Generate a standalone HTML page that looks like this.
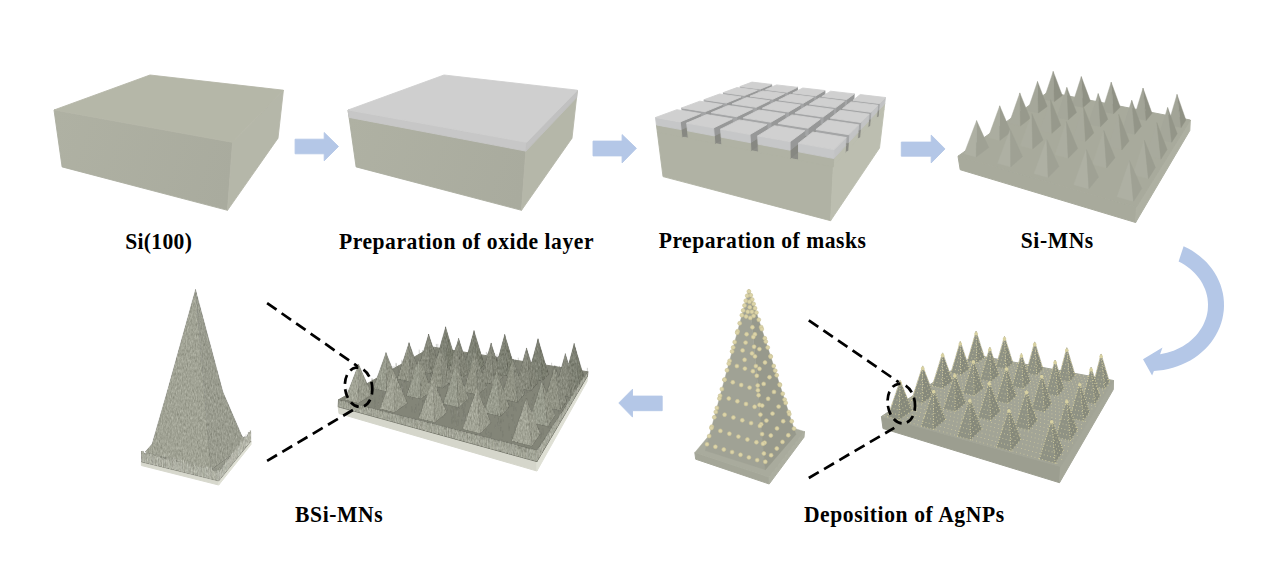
<!DOCTYPE html>
<html><head><meta charset="utf-8"><style>html,body{margin:0;padding:0;background:#fff;width:1269px;height:577px;overflow:hidden}svg{display:block}</style></head>
<body><svg width="1269" height="577" viewBox="0 0 1269 577">
<defs><filter id="fur" x="-5%" y="-5%" width="110%" height="110%" color-interpolation-filters="sRGB">
<feTurbulence type="fractalNoise" baseFrequency="0.8 0.3" numOctaves="2" seed="4" result="n"/>
<feColorMatrix in="n" type="matrix" values="0.33 0.33 0.33 0 0  0.33 0.33 0.33 0 0  0.33 0.33 0.33 0 0  0 0 0 0 1" result="g"/>
<feComposite in="SourceGraphic" in2="g" operator="arithmetic" k1="0" k2="1" k3="0.4" k4="-0.2" result="c"/>
<feComposite in="c" in2="SourceAlpha" operator="in"/>
</filter></defs>
<rect width="1269" height="577" fill="#fff"/>
<linearGradient id="gf0" gradientUnits="userSpaceOnUse" x1="54" y1="120" x2="232" y2="180"><stop offset="0" stop-color="#afb1a3"/><stop offset="1" stop-color="#a9ab9e"/></linearGradient>
<polygon points="54.0,110.0 232.6,142.3 227.5,210.3 62.1,166.9" fill="url(#gf0)"  stroke="#acaea0" stroke-width="0.9"/>
<polygon points="232.6,142.3 283.4,90.2 278.0,138.2 227.5,210.3" fill="#b5b7a9" stroke="#b5b7a9" stroke-width="0.9" stroke-linejoin="round" />
<polygon points="54.0,110.0 150.0,75.0 283.4,90.2 232.6,142.3" fill="#b5b7a8" stroke="#b5b7a8" stroke-width="0.9" stroke-linejoin="round" />
<linearGradient id="gf294" gradientUnits="userSpaceOnUse" x1="348" y1="120" x2="526" y2="180"><stop offset="0" stop-color="#afb1a3"/><stop offset="1" stop-color="#a9ab9e"/></linearGradient>
<polygon points="348.0,110.0 526.6,142.3 521.5,210.3 356.1,166.9" fill="url(#gf294)"  stroke="#acaea0" stroke-width="0.9"/>
<polygon points="526.6,142.3 577.4,90.2 572.0,138.2 521.5,210.3" fill="#b5b7a9" stroke="#b5b7a9" stroke-width="0.9" stroke-linejoin="round" />
<polygon points="348.0,110.0 526.6,142.3 525.9,151.1 349.1,117.4" fill="#c7c7c7" stroke="#c7c7c7" stroke-width="0.9" stroke-linejoin="round" />
<polygon points="526.6,142.3 577.4,90.2 576.6,97.6 525.9,151.1" fill="#c1c1c1" stroke="#c1c1c1" stroke-width="0.9" stroke-linejoin="round" />
<polygon points="348.0,110.0 444.0,75.0 577.4,90.2 526.6,142.3" fill="#cfcfcf" stroke="#cfcfcf" stroke-width="0.9" stroke-linejoin="round" />
<polygon points="657.3,132.0 833.3,167.0 884.0,109.9 753.5,92.8" fill="#8c8d87" stroke="#8c8d87" stroke-width="0.9" stroke-linejoin="round" />
<polygon points="657.3,132.0 833.3,167.0 830.6,220.7 663.0,176.6" fill="#b0b2a4" stroke="#b0b2a4" stroke-width="0.9" stroke-linejoin="round" />
<polygon points="833.3,167.0 884.0,109.9 879.5,148.0 830.6,220.7" fill="#bcbeb0" stroke="#bcbeb0" stroke-width="0.9" stroke-linejoin="round" />
<polygon points="761.0,94.8 772.2,89.9 772.8,95.3 761.7,100.4" fill="#878882" stroke="#878882" stroke-width="0.9" stroke-linejoin="round" />
<polygon points="760.4,89.0 771.6,84.4 772.2,89.9 761.0,94.8" fill="#979898" stroke="#979898" stroke-width="0.9" stroke-linejoin="round" />
<polygon points="740.9,92.2 761.0,94.8 761.7,100.4 741.7,97.6" fill="#8a8b85" stroke="#8a8b85" stroke-width="0.9" stroke-linejoin="round" />
<polygon points="740.1,86.5 760.4,89.0 761.0,94.8 740.9,92.2" fill="#a4a5a6" stroke="#a4a5a6" stroke-width="0.9" stroke-linejoin="round" />
<polygon points="740.1,86.5 760.4,89.0 771.6,84.4 752.0,82.1" fill="#d0d0d0" stroke="#d0d0d0" stroke-width="0.9" stroke-linejoin="round" />
<polygon points="787.7,98.3 797.8,93.1 798.1,98.6 788.1,104.0" fill="#878882" stroke="#878882" stroke-width="0.9" stroke-linejoin="round" />
<polygon points="787.2,92.3 797.4,87.3 797.8,93.1 787.7,98.3" fill="#979898" stroke="#979898" stroke-width="0.9" stroke-linejoin="round" />
<polygon points="766.2,95.5 787.7,98.3 788.1,104.0 766.8,101.1" fill="#8a8b85" stroke="#8a8b85" stroke-width="0.9" stroke-linejoin="round" />
<polygon points="765.6,89.6 787.2,92.3 787.7,98.3 766.2,95.5" fill="#a4a5a6" stroke="#a4a5a6" stroke-width="0.9" stroke-linejoin="round" />
<polygon points="765.6,89.6 787.2,92.3 797.4,87.3 776.6,84.9" fill="#d0d0d0" stroke="#d0d0d0" stroke-width="0.9" stroke-linejoin="round" />
<polygon points="816.0,102.0 825.0,96.5 825.0,102.2 816.2,107.9" fill="#878882" stroke="#878882" stroke-width="0.9" stroke-linejoin="round" />
<polygon points="815.9,95.8 824.9,90.5 825.0,96.5 816.0,102.0" fill="#979898" stroke="#979898" stroke-width="0.9" stroke-linejoin="round" />
<polygon points="793.2,99.0 816.0,102.0 816.2,107.9 793.6,104.8" fill="#8a8b85" stroke="#8a8b85" stroke-width="0.9" stroke-linejoin="round" />
<polygon points="792.8,93.0 815.9,95.8 816.0,102.0 793.2,99.0" fill="#a4a5a6" stroke="#a4a5a6" stroke-width="0.9" stroke-linejoin="round" />
<polygon points="792.8,93.0 815.9,95.8 824.9,90.5 802.8,88.0" fill="#d0d0d0" stroke="#d0d0d0" stroke-width="0.9" stroke-linejoin="round" />
<polygon points="846.3,105.9 853.9,100.0 853.6,105.9 846.1,112.1" fill="#878882" stroke="#878882" stroke-width="0.9" stroke-linejoin="round" />
<polygon points="846.6,99.5 854.2,93.9 853.9,100.0 846.3,105.9" fill="#979898" stroke="#979898" stroke-width="0.9" stroke-linejoin="round" />
<polygon points="821.9,102.8 846.3,105.9 846.1,112.1 822.0,108.7" fill="#8a8b85" stroke="#8a8b85" stroke-width="0.9" stroke-linejoin="round" />
<polygon points="821.9,96.5 846.6,99.5 846.3,105.9 821.9,102.8" fill="#a4a5a6" stroke="#a4a5a6" stroke-width="0.9" stroke-linejoin="round" />
<polygon points="821.9,96.5 846.6,99.5 854.2,93.9 830.6,91.2" fill="#d0d0d0" stroke="#d0d0d0" stroke-width="0.9" stroke-linejoin="round" />
<polygon points="878.7,110.2 884.7,103.8 884.0,109.9 878.1,116.5" fill="#bcbeb0" stroke="#bcbeb0" stroke-width="0.9" stroke-linejoin="round" />
<polygon points="879.4,103.6 885.4,97.5 884.7,103.8 878.7,110.2" fill="#c2c3c4" stroke="#c2c3c4" stroke-width="0.9" stroke-linejoin="round" />
<polygon points="852.6,106.8 878.7,110.2 878.1,116.5 852.3,112.9" fill="#8a8b85" stroke="#8a8b85" stroke-width="0.9" stroke-linejoin="round" />
<polygon points="853.0,100.3 879.4,103.6 878.7,110.2 852.6,106.8" fill="#a4a5a6" stroke="#a4a5a6" stroke-width="0.9" stroke-linejoin="round" />
<polygon points="853.0,100.3 879.4,103.6 885.4,97.5 860.2,94.6" fill="#d0d0d0" stroke="#d0d0d0" stroke-width="0.9" stroke-linejoin="round" />
<polygon points="745.3,101.6 758.1,96.1 758.7,101.7 746.0,107.5" fill="#878882" stroke="#878882" stroke-width="0.9" stroke-linejoin="round" />
<polygon points="744.6,95.5 757.4,90.2 758.1,96.1 745.3,101.6" fill="#979898" stroke="#979898" stroke-width="0.9" stroke-linejoin="round" />
<polygon points="724.2,98.6 745.3,101.6 746.0,107.5 725.0,104.4" fill="#8a8b85" stroke="#8a8b85" stroke-width="0.9" stroke-linejoin="round" />
<polygon points="723.3,92.6 744.6,95.5 745.3,101.6 724.2,98.6" fill="#a4a5a6" stroke="#a4a5a6" stroke-width="0.9" stroke-linejoin="round" />
<polygon points="723.3,92.6 744.6,95.5 757.4,90.2 736.9,87.6" fill="#d0d0d0" stroke="#d0d0d0" stroke-width="0.9" stroke-linejoin="round" />
<polygon points="773.4,105.6 785.0,99.7 785.4,105.5 773.8,111.7" fill="#878882" stroke="#878882" stroke-width="0.9" stroke-linejoin="round" />
<polygon points="772.9,99.2 784.5,93.6 785.0,99.7 773.4,105.6" fill="#979898" stroke="#979898" stroke-width="0.9" stroke-linejoin="round" />
<polygon points="750.8,102.4 773.4,105.6 773.8,111.7 751.4,108.4" fill="#8a8b85" stroke="#8a8b85" stroke-width="0.9" stroke-linejoin="round" />
<polygon points="750.1,96.2 772.9,99.2 773.4,105.6 750.8,102.4" fill="#a4a5a6" stroke="#a4a5a6" stroke-width="0.9" stroke-linejoin="round" />
<polygon points="750.1,96.2 772.9,99.2 784.5,93.6 762.7,90.9" fill="#d0d0d0" stroke="#d0d0d0" stroke-width="0.9" stroke-linejoin="round" />
<polygon points="803.4,109.8 813.7,103.5 813.8,109.5 803.6,116.2" fill="#878882" stroke="#878882" stroke-width="0.9" stroke-linejoin="round" />
<polygon points="803.2,103.3 813.5,97.2 813.7,103.5 803.4,109.8" fill="#979898" stroke="#979898" stroke-width="0.9" stroke-linejoin="round" />
<polygon points="779.2,106.4 803.4,109.8 803.6,116.2 779.6,112.6" fill="#8a8b85" stroke="#8a8b85" stroke-width="0.9" stroke-linejoin="round" />
<polygon points="778.8,100.0 803.2,103.3 803.4,109.8 779.2,106.4" fill="#a4a5a6" stroke="#a4a5a6" stroke-width="0.9" stroke-linejoin="round" />
<polygon points="778.8,100.0 803.2,103.3 813.5,97.2 790.2,94.3" fill="#d0d0d0" stroke="#d0d0d0" stroke-width="0.9" stroke-linejoin="round" />
<polygon points="835.6,114.4 844.3,107.5 844.1,113.7 835.4,120.9" fill="#878882" stroke="#878882" stroke-width="0.9" stroke-linejoin="round" />
<polygon points="835.8,107.6 844.5,101.1 844.3,107.5 835.6,114.4" fill="#979898" stroke="#979898" stroke-width="0.9" stroke-linejoin="round" />
<polygon points="809.6,110.7 835.6,114.4 835.4,120.9 809.8,117.1" fill="#8a8b85" stroke="#8a8b85" stroke-width="0.9" stroke-linejoin="round" />
<polygon points="809.5,104.1 835.8,107.6 835.6,114.4 809.6,110.7" fill="#a4a5a6" stroke="#a4a5a6" stroke-width="0.9" stroke-linejoin="round" />
<polygon points="809.5,104.1 835.8,107.6 844.5,101.1 819.6,97.9" fill="#d0d0d0" stroke="#d0d0d0" stroke-width="0.9" stroke-linejoin="round" />
<polygon points="870.3,119.3 877.1,111.9 876.5,118.3 869.6,126.0" fill="#bcbeb0" stroke="#bcbeb0" stroke-width="0.9" stroke-linejoin="round" />
<polygon points="870.9,112.3 877.8,105.2 877.1,111.9 870.3,119.3" fill="#c2c3c4" stroke="#c2c3c4" stroke-width="0.9" stroke-linejoin="round" />
<polygon points="842.3,115.3 870.3,119.3 869.6,126.0 842.1,121.9" fill="#8a8b85" stroke="#8a8b85" stroke-width="0.9" stroke-linejoin="round" />
<polygon points="842.6,108.5 870.9,112.3 870.3,119.3 842.3,115.3" fill="#a4a5a6" stroke="#a4a5a6" stroke-width="0.9" stroke-linejoin="round" />
<polygon points="842.6,108.5 870.9,112.3 877.8,105.2 851.0,101.9" fill="#d0d0d0" stroke="#d0d0d0" stroke-width="0.9" stroke-linejoin="round" />
<polygon points="727.2,109.5 741.9,103.1 742.6,109.1 727.9,115.8" fill="#878882" stroke="#878882" stroke-width="0.9" stroke-linejoin="round" />
<polygon points="726.4,103.0 741.1,96.9 741.9,103.1 727.2,109.5" fill="#979898" stroke="#979898" stroke-width="0.9" stroke-linejoin="round" />
<polygon points="704.9,106.1 727.2,109.5 727.9,115.8 705.8,112.2" fill="#8a8b85" stroke="#8a8b85" stroke-width="0.9" stroke-linejoin="round" />
<polygon points="704.0,99.7 726.4,103.0 727.2,109.5 704.9,106.1" fill="#a4a5a6" stroke="#a4a5a6" stroke-width="0.9" stroke-linejoin="round" />
<polygon points="704.0,99.7 726.4,103.0 741.1,96.9 719.6,94.0" fill="#d0d0d0" stroke="#d0d0d0" stroke-width="0.9" stroke-linejoin="round" />
<polygon points="756.8,114.1 770.2,107.2 770.7,113.4 757.3,120.6" fill="#878882" stroke="#878882" stroke-width="0.9" stroke-linejoin="round" />
<polygon points="756.2,107.3 769.7,100.7 770.2,107.2 756.8,114.1" fill="#979898" stroke="#979898" stroke-width="0.9" stroke-linejoin="round" />
<polygon points="732.9,110.4 756.8,114.1 757.3,120.6 733.6,116.7" fill="#8a8b85" stroke="#8a8b85" stroke-width="0.9" stroke-linejoin="round" />
<polygon points="732.2,103.8 756.2,107.3 756.8,114.1 732.9,110.4" fill="#a4a5a6" stroke="#a4a5a6" stroke-width="0.9" stroke-linejoin="round" />
<polygon points="732.2,103.8 756.2,107.3 769.7,100.7 746.7,97.6" fill="#d0d0d0" stroke="#d0d0d0" stroke-width="0.9" stroke-linejoin="round" />
<polygon points="788.6,119.0 800.6,111.6 800.8,118.0 788.9,125.7" fill="#878882" stroke="#878882" stroke-width="0.9" stroke-linejoin="round" />
<polygon points="788.4,112.0 800.4,104.9 800.6,111.6 788.6,119.0" fill="#979898" stroke="#979898" stroke-width="0.9" stroke-linejoin="round" />
<polygon points="763.0,115.0 788.6,119.0 788.9,125.7 763.5,121.6" fill="#8a8b85" stroke="#8a8b85" stroke-width="0.9" stroke-linejoin="round" />
<polygon points="762.4,108.2 788.4,112.0 788.6,119.0 763.0,115.0" fill="#a4a5a6" stroke="#a4a5a6" stroke-width="0.9" stroke-linejoin="round" />
<polygon points="762.4,108.2 788.4,112.0 800.4,104.9 775.7,101.6" fill="#d0d0d0" stroke="#d0d0d0" stroke-width="0.9" stroke-linejoin="round" />
<polygon points="823.0,124.3 833.2,116.2 833.1,122.9 822.9,131.3" fill="#878882" stroke="#878882" stroke-width="0.9" stroke-linejoin="round" />
<polygon points="823.1,117.0 833.4,109.4 833.2,116.2 823.0,124.3" fill="#979898" stroke="#979898" stroke-width="0.9" stroke-linejoin="round" />
<polygon points="795.3,120.0 823.0,124.3 822.9,131.3 795.5,126.8" fill="#8a8b85" stroke="#8a8b85" stroke-width="0.9" stroke-linejoin="round" />
<polygon points="795.1,112.9 823.1,117.0 823.0,124.3 795.3,120.0" fill="#a4a5a6" stroke="#a4a5a6" stroke-width="0.9" stroke-linejoin="round" />
<polygon points="795.1,112.9 823.1,117.0 833.4,109.4 806.8,105.8" fill="#d0d0d0" stroke="#d0d0d0" stroke-width="0.9" stroke-linejoin="round" />
<polygon points="860.3,130.0 868.4,121.3 867.8,128.1 859.7,137.2" fill="#bcbeb0" stroke="#bcbeb0" stroke-width="0.9" stroke-linejoin="round" />
<polygon points="860.8,122.5 869.0,114.2 868.4,121.3 860.3,130.0" fill="#c2c3c4" stroke="#c2c3c4" stroke-width="0.9" stroke-linejoin="round" />
<polygon points="830.2,125.4 860.3,130.0 859.7,137.2 830.1,132.4" fill="#8a8b85" stroke="#8a8b85" stroke-width="0.9" stroke-linejoin="round" />
<polygon points="830.4,118.1 860.8,122.5 860.3,130.0 830.2,125.4" fill="#a4a5a6" stroke="#a4a5a6" stroke-width="0.9" stroke-linejoin="round" />
<polygon points="830.4,118.1 860.8,122.5 869.0,114.2 840.3,110.3" fill="#d0d0d0" stroke="#d0d0d0" stroke-width="0.9" stroke-linejoin="round" />
<polygon points="706.0,118.7 723.2,111.2 724.0,117.6 706.8,125.5" fill="#878882" stroke="#878882" stroke-width="0.9" stroke-linejoin="round" />
<polygon points="705.2,111.7 722.4,104.6 723.2,111.2 706.0,118.7" fill="#979898" stroke="#979898" stroke-width="0.9" stroke-linejoin="round" />
<polygon points="682.6,114.7 706.0,118.7 706.8,125.5 683.5,121.3" fill="#8a8b85" stroke="#8a8b85" stroke-width="0.9" stroke-linejoin="round" />
<polygon points="681.7,107.9 705.2,111.7 706.0,118.7 682.6,114.7" fill="#a4a5a6" stroke="#a4a5a6" stroke-width="0.9" stroke-linejoin="round" />
<polygon points="681.7,107.9 705.2,111.7 722.4,104.6 699.8,101.2" fill="#d0d0d0" stroke="#d0d0d0" stroke-width="0.9" stroke-linejoin="round" />
<polygon points="737.3,124.0 753.1,115.9 753.7,122.6 738.0,131.0" fill="#878882" stroke="#878882" stroke-width="0.9" stroke-linejoin="round" />
<polygon points="736.7,116.7 752.6,109.1 753.1,115.9 737.3,124.0" fill="#979898" stroke="#979898" stroke-width="0.9" stroke-linejoin="round" />
<polygon points="712.1,119.7 737.3,124.0 738.0,131.0 712.9,126.5" fill="#8a8b85" stroke="#8a8b85" stroke-width="0.9" stroke-linejoin="round" />
<polygon points="711.3,112.6 736.7,116.7 737.3,124.0 712.1,119.7" fill="#a4a5a6" stroke="#a4a5a6" stroke-width="0.9" stroke-linejoin="round" />
<polygon points="711.3,112.6 736.7,116.7 752.6,109.1 728.3,105.5" fill="#d0d0d0" stroke="#d0d0d0" stroke-width="0.9" stroke-linejoin="round" />
<polygon points="771.3,129.8 785.4,121.0 785.7,127.9 771.6,137.1" fill="#878882" stroke="#878882" stroke-width="0.9" stroke-linejoin="round" />
<polygon points="770.9,122.2 785.1,113.9 785.4,121.0 771.3,129.8" fill="#979898" stroke="#979898" stroke-width="0.9" stroke-linejoin="round" />
<polygon points="743.9,125.1 771.3,129.8 771.6,137.1 744.5,132.2" fill="#8a8b85" stroke="#8a8b85" stroke-width="0.9" stroke-linejoin="round" />
<polygon points="743.3,117.8 770.9,122.2 771.3,129.8 743.9,125.1" fill="#a4a5a6" stroke="#a4a5a6" stroke-width="0.9" stroke-linejoin="round" />
<polygon points="743.3,117.8 770.9,122.2 785.1,113.9 758.9,110.0" fill="#d0d0d0" stroke="#d0d0d0" stroke-width="0.9" stroke-linejoin="round" />
<polygon points="808.1,136.0 820.3,126.5 820.2,133.6 808.1,143.6" fill="#878882" stroke="#878882" stroke-width="0.9" stroke-linejoin="round" />
<polygon points="808.1,128.2 820.3,119.1 820.3,126.5 808.1,136.0" fill="#979898" stroke="#979898" stroke-width="0.9" stroke-linejoin="round" />
<polygon points="778.4,131.0 808.1,136.0 808.1,143.6 778.7,138.3" fill="#8a8b85" stroke="#8a8b85" stroke-width="0.9" stroke-linejoin="round" />
<polygon points="778.1,123.4 808.1,128.2 808.1,136.0 778.4,131.0" fill="#a4a5a6" stroke="#a4a5a6" stroke-width="0.9" stroke-linejoin="round" />
<polygon points="778.1,123.4 808.1,128.2 820.3,119.1 791.9,114.9" fill="#d0d0d0" stroke="#d0d0d0" stroke-width="0.9" stroke-linejoin="round" />
<polygon points="848.3,142.9 858.0,132.4 857.5,139.7 847.8,150.7" fill="#bcbeb0" stroke="#bcbeb0" stroke-width="0.9" stroke-linejoin="round" />
<polygon points="848.8,134.7 858.6,124.8 858.0,132.4 848.3,142.9" fill="#c2c3c4" stroke="#c2c3c4" stroke-width="0.9" stroke-linejoin="round" />
<polygon points="815.9,137.4 848.3,142.9 847.8,150.7 815.8,145.0" fill="#8a8b85" stroke="#8a8b85" stroke-width="0.9" stroke-linejoin="round" />
<polygon points="816.0,129.5 848.8,134.7 848.3,142.9 815.9,137.4" fill="#a4a5a6" stroke="#a4a5a6" stroke-width="0.9" stroke-linejoin="round" />
<polygon points="816.0,129.5 848.8,134.7 858.6,124.8 827.7,120.2" fill="#d0d0d0" stroke="#d0d0d0" stroke-width="0.9" stroke-linejoin="round" />
<polygon points="681.1,129.6 701.4,120.7 702.2,127.6 681.9,136.9" fill="#878882" stroke="#878882" stroke-width="0.9" stroke-linejoin="round" />
<polygon points="680.2,121.9 700.5,113.6 701.4,120.7 681.1,129.6" fill="#979898" stroke="#979898" stroke-width="0.9" stroke-linejoin="round" />
<polygon points="656.4,124.9 681.1,129.6 681.9,136.9 657.3,132.0" fill="#b0b2a4" stroke="#b0b2a4" stroke-width="0.9" stroke-linejoin="round" />
<polygon points="655.5,117.5 680.2,121.9 681.1,129.6 656.4,124.9" fill="#c6c7c8" stroke="#c6c7c8" stroke-width="0.9" stroke-linejoin="round" />
<polygon points="655.5,117.5 680.2,121.9 700.5,113.6 676.8,109.7" fill="#d0d0d0" stroke="#d0d0d0" stroke-width="0.9" stroke-linejoin="round" />
<polygon points="714.3,135.9 733.1,126.2 733.7,133.3 714.9,143.5" fill="#878882" stroke="#878882" stroke-width="0.9" stroke-linejoin="round" />
<polygon points="713.6,127.9 732.4,118.8 733.1,126.2 714.3,135.9" fill="#979898" stroke="#979898" stroke-width="0.9" stroke-linejoin="round" />
<polygon points="687.5,130.8 714.3,135.9 714.9,143.5 688.3,138.2" fill="#b0b2a4" stroke="#b0b2a4" stroke-width="0.9" stroke-linejoin="round" />
<polygon points="686.7,123.1 713.6,127.9 714.3,135.9 687.5,130.8" fill="#c6c7c8" stroke="#c6c7c8" stroke-width="0.9" stroke-linejoin="round" />
<polygon points="686.7,123.1 713.6,127.9 732.4,118.8 706.7,114.6" fill="#d0d0d0" stroke="#d0d0d0" stroke-width="0.9" stroke-linejoin="round" />
<polygon points="750.5,142.7 767.4,132.2 767.8,139.6 750.9,150.6" fill="#878882" stroke="#878882" stroke-width="0.9" stroke-linejoin="round" />
<polygon points="750.0,134.5 767.0,124.5 767.4,132.2 750.5,142.7" fill="#979898" stroke="#979898" stroke-width="0.9" stroke-linejoin="round" />
<polygon points="721.2,137.2 750.5,142.7 750.9,150.6 721.9,144.9" fill="#b0b2a4" stroke="#b0b2a4" stroke-width="0.9" stroke-linejoin="round" />
<polygon points="720.6,129.2 750.0,134.5 750.5,142.7 721.2,137.2" fill="#c6c7c8" stroke="#c6c7c8" stroke-width="0.9" stroke-linejoin="round" />
<polygon points="720.6,129.2 750.0,134.5 767.0,124.5 739.1,119.9" fill="#d0d0d0" stroke="#d0d0d0" stroke-width="0.9" stroke-linejoin="round" />
<polygon points="790.1,150.2 804.8,138.7 804.8,146.3 790.2,158.4" fill="#878882" stroke="#878882" stroke-width="0.9" stroke-linejoin="round" />
<polygon points="790.1,141.7 804.8,130.7 804.8,138.7 790.1,150.2" fill="#979898" stroke="#979898" stroke-width="0.9" stroke-linejoin="round" />
<polygon points="758.1,144.2 790.1,150.2 790.2,158.4 758.4,152.1" fill="#b0b2a4" stroke="#b0b2a4" stroke-width="0.9" stroke-linejoin="round" />
<polygon points="757.7,135.9 790.1,141.7 790.1,150.2 758.1,144.2" fill="#c6c7c8" stroke="#c6c7c8" stroke-width="0.9" stroke-linejoin="round" />
<polygon points="757.7,135.9 790.1,141.7 804.8,130.7 774.3,125.7" fill="#d0d0d0" stroke="#d0d0d0" stroke-width="0.9" stroke-linejoin="round" />
<polygon points="833.8,158.5 845.6,145.7 845.1,153.7 833.3,167.0" fill="#bcbeb0" stroke="#bcbeb0" stroke-width="0.9" stroke-linejoin="round" />
<polygon points="834.2,149.6 846.1,137.5 845.6,145.7 833.8,158.5" fill="#c2c3c4" stroke="#c2c3c4" stroke-width="0.9" stroke-linejoin="round" />
<polygon points="798.5,151.8 833.8,158.5 833.3,167.0 798.5,160.1" fill="#b0b2a4" stroke="#b0b2a4" stroke-width="0.9" stroke-linejoin="round" />
<polygon points="798.5,143.2 834.2,149.6 833.8,158.5 798.5,151.8" fill="#c6c7c8" stroke="#c6c7c8" stroke-width="0.9" stroke-linejoin="round" />
<polygon points="798.5,143.2 834.2,149.6 846.1,137.5 812.8,132.0" fill="#d0d0d0" stroke="#d0d0d0" stroke-width="0.9" stroke-linejoin="round" />
<polygon points="295.1,139.2 324.2,139.2 324.2,132.5 338.5,146.5 324.2,160.8 324.2,153.8 295.1,153.8" fill="#b4c7e7" stroke="#b4c7e7" stroke-width="0.9" stroke-linejoin="round" />
<polygon points="593.0,141.1 622.1,141.1 622.1,134.6 636.4,148.3 622.1,162.9 622.1,155.9 593.0,155.9" fill="#b4c7e7" stroke="#b4c7e7" stroke-width="0.9" stroke-linejoin="round" />
<polygon points="901.3,142.1 931.2,142.1 931.2,135.1 945.0,148.9 931.2,162.9 931.2,156.2 901.3,156.2" fill="#b4c7e7" stroke="#b4c7e7" stroke-width="0.9" stroke-linejoin="round" />
<polygon points="662.2,396.1 632.5,396.1 632.5,389.2 618.8,403.0 632.5,417.1 632.5,410.7 662.2,410.7" fill="#b4c7e7" stroke="#b4c7e7" stroke-width="0.9" stroke-linejoin="round" />
<polygon points="958.0,156.2 1136.4,206.9 1135.6,222.5 960.2,169.7" fill="#a8aa9c" stroke="#a8aa9c"  stroke-linejoin="round" stroke-width="1"/>
<polygon points="1136.4,206.9 1190.3,120.0 1189.8,130.5 1135.6,222.5" fill="#aeb0a2" stroke="#aeb0a2"  stroke-linejoin="round" stroke-width="1"/>
<polygon points="958.0,156.2 1136.4,206.9 1190.3,120.0 1048.0,92.0" fill="#a8aa9c" stroke="#a8aa9c"  stroke-linejoin="round" stroke-width="1"/>
<polygon points="1043.9,99.4 1054.4,101.5 1053.2,71.4" fill="#a2a497" stroke="#a2a497" stroke-width="0.4" stroke-linejoin="round" />
<polygon points="1054.4,101.5 1062.3,95.5 1053.2,71.4" fill="#8f9184" stroke="#8f9184" stroke-width="0.4" stroke-linejoin="round" />
<polygon points="1072.1,105.2 1083.1,107.5 1081.3,76.6" fill="#a2a497" stroke="#a2a497" stroke-width="0.4" stroke-linejoin="round" />
<polygon points="1083.1,107.5 1090.4,101.1 1081.3,76.6" fill="#8f9184" stroke="#8f9184" stroke-width="0.4" stroke-linejoin="round" />
<polygon points="1027.6,110.7 1038.4,113.0 1037.5,81.5" fill="#a5a79a" stroke="#a5a79a" stroke-width="0.4" stroke-linejoin="round" />
<polygon points="1038.4,113.0 1047.2,106.4 1037.5,81.5" fill="#939588" stroke="#939588" stroke-width="0.4" stroke-linejoin="round" />
<polygon points="1102.0,111.4 1113.6,113.8 1111.2,82.2" fill="#a2a497" stroke="#a2a497" stroke-width="0.4" stroke-linejoin="round" />
<polygon points="1113.6,113.8 1120.2,107.0 1111.2,82.2" fill="#8f9184" stroke="#8f9184" stroke-width="0.4" stroke-linejoin="round" />
<polygon points="1057.0,117.2 1068.4,119.7 1066.8,87.4" fill="#a5a79a" stroke="#a5a79a" stroke-width="0.4" stroke-linejoin="round" />
<polygon points="1068.4,119.7 1076.5,112.6 1066.8,87.4" fill="#939588" stroke="#939588" stroke-width="0.4" stroke-linejoin="round" />
<polygon points="1133.9,117.9 1146.2,120.5 1143.0,88.1" fill="#a2a497" stroke="#a2a497" stroke-width="0.4" stroke-linejoin="round" />
<polygon points="1146.2,120.5 1152.0,113.3 1143.0,88.1" fill="#8f9184" stroke="#8f9184" stroke-width="0.4" stroke-linejoin="round" />
<polygon points="1009.2,123.3 1020.4,126.0 1019.8,92.9" fill="#a8aa9d" stroke="#a8aa9d" stroke-width="0.4" stroke-linejoin="round" />
<polygon points="1020.4,126.0 1030.2,118.5 1019.8,92.9" fill="#97998c" stroke="#97998c" stroke-width="0.4" stroke-linejoin="round" />
<polygon points="1088.3,124.1 1100.5,126.8 1098.2,93.6" fill="#a5a79a" stroke="#a5a79a" stroke-width="0.4" stroke-linejoin="round" />
<polygon points="1100.5,126.8 1107.8,119.2 1098.2,93.6" fill="#939588" stroke="#939588" stroke-width="0.4" stroke-linejoin="round" />
<polygon points="1168.0,124.9 1181.1,127.6 1177.0,94.4" fill="#a2a497" stroke="#a2a497" stroke-width="0.4" stroke-linejoin="round" />
<polygon points="1181.1,127.6 1185.9,120.0 1177.0,94.4" fill="#8f9184" stroke="#8f9184" stroke-width="0.4" stroke-linejoin="round" />
<polygon points="1039.8,130.6 1051.8,133.4 1050.5,99.5" fill="#a8aa9d" stroke="#a8aa9d" stroke-width="0.4" stroke-linejoin="round" />
<polygon points="1051.8,133.4 1060.9,125.5 1050.5,99.5" fill="#97998c" stroke="#97998c" stroke-width="0.4" stroke-linejoin="round" />
<polygon points="1121.9,131.5 1134.8,134.3 1131.7,100.3" fill="#a5a79a" stroke="#a5a79a" stroke-width="0.4" stroke-linejoin="round" />
<polygon points="1134.8,134.3 1141.3,126.3 1131.7,100.3" fill="#939588" stroke="#939588" stroke-width="0.4" stroke-linejoin="round" />
<polygon points="988.2,137.5 999.8,140.5 999.7,105.8" fill="#abada0" stroke="#abada0" stroke-width="0.4" stroke-linejoin="round" />
<polygon points="999.8,140.5 1010.9,132.1 999.7,105.8" fill="#9b9d90" stroke="#9b9d90" stroke-width="0.4" stroke-linejoin="round" />
<polygon points="1072.8,138.4 1085.5,141.4 1083.4,106.7" fill="#a8aa9d" stroke="#a8aa9d" stroke-width="0.4" stroke-linejoin="round" />
<polygon points="1085.5,141.4 1093.8,133.0 1083.4,106.7" fill="#97998c" stroke="#97998c" stroke-width="0.4" stroke-linejoin="round" />
<polygon points="1157.9,139.3 1171.7,142.3 1167.6,107.5" fill="#a5a79a" stroke="#a5a79a" stroke-width="0.4" stroke-linejoin="round" />
<polygon points="1171.7,142.3 1177.2,133.8 1167.6,107.5" fill="#939588" stroke="#939588" stroke-width="0.4" stroke-linejoin="round" />
<polygon points="1020.3,145.8 1032.7,149.0 1031.8,113.4" fill="#abada0" stroke="#abada0" stroke-width="0.4" stroke-linejoin="round" />
<polygon points="1032.7,149.0 1043.1,140.1 1031.8,113.4" fill="#9b9d90" stroke="#9b9d90" stroke-width="0.4" stroke-linejoin="round" />
<polygon points="1108.2,146.8 1121.8,150.0 1118.7,114.3" fill="#a8aa9d" stroke="#a8aa9d" stroke-width="0.4" stroke-linejoin="round" />
<polygon points="1121.8,150.0 1129.1,141.0 1118.7,114.3" fill="#97998c" stroke="#97998c" stroke-width="0.4" stroke-linejoin="round" />
<polygon points="964.1,153.7 976.2,157.1 976.6,120.6" fill="#aeb0a3" stroke="#aeb0a3" stroke-width="0.4" stroke-linejoin="round" />
<polygon points="976.2,157.1 988.8,147.6 976.6,120.6" fill="#9fa194" stroke="#9fa194" stroke-width="0.4" stroke-linejoin="round" />
<polygon points="1054.9,154.7 1068.2,158.2 1066.4,121.6" fill="#abada0" stroke="#abada0" stroke-width="0.4" stroke-linejoin="round" />
<polygon points="1068.2,158.2 1077.7,148.6 1066.4,121.6" fill="#9b9d90" stroke="#9b9d90" stroke-width="0.4" stroke-linejoin="round" />
<polygon points="1146.3,155.8 1160.9,159.2 1156.8,122.6" fill="#a8aa9d" stroke="#a8aa9d" stroke-width="0.4" stroke-linejoin="round" />
<polygon points="1160.9,159.2 1167.1,149.5 1156.8,122.6" fill="#97998c" stroke="#97998c" stroke-width="0.4" stroke-linejoin="round" />
<polygon points="997.7,163.3 1010.7,166.9 1010.3,129.4" fill="#aeb0a3" stroke="#aeb0a3" stroke-width="0.4" stroke-linejoin="round" />
<polygon points="1010.7,166.9 1022.5,156.7 1010.3,129.4" fill="#9fa194" stroke="#9fa194" stroke-width="0.4" stroke-linejoin="round" />
<polygon points="1092.3,164.3 1106.6,168.0 1103.8,130.5" fill="#abada0" stroke="#abada0" stroke-width="0.4" stroke-linejoin="round" />
<polygon points="1106.6,168.0 1115.0,157.7 1103.8,130.5" fill="#9b9d90" stroke="#9b9d90" stroke-width="0.4" stroke-linejoin="round" />
<polygon points="1034.1,173.5 1048.1,177.5 1046.7,139.0" fill="#aeb0a3" stroke="#aeb0a3" stroke-width="0.4" stroke-linejoin="round" />
<polygon points="1048.1,177.5 1059.0,166.5 1046.7,139.0" fill="#9fa194" stroke="#9fa194" stroke-width="0.4" stroke-linejoin="round" />
<polygon points="1132.9,174.7 1148.4,178.7 1144.3,140.1" fill="#abada0" stroke="#abada0" stroke-width="0.4" stroke-linejoin="round" />
<polygon points="1148.4,178.7 1155.4,167.6 1144.3,140.1" fill="#9b9d90" stroke="#9b9d90" stroke-width="0.4" stroke-linejoin="round" />
<polygon points="1073.8,184.7 1088.9,188.9 1086.4,149.3" fill="#aeb0a3" stroke="#aeb0a3" stroke-width="0.4" stroke-linejoin="round" />
<polygon points="1088.9,188.9 1098.6,177.1 1086.4,149.3" fill="#9fa194" stroke="#9fa194" stroke-width="0.4" stroke-linejoin="round" />
<polygon points="1117.1,196.8 1133.5,201.4 1129.6,160.6" fill="#aeb0a3" stroke="#aeb0a3" stroke-width="0.4" stroke-linejoin="round" />
<polygon points="1133.5,201.4 1141.8,188.6 1129.6,160.6" fill="#9fa194" stroke="#9fa194" stroke-width="0.4" stroke-linejoin="round" />
<polygon points="881.4,416.5 1060.5,466.5 1059.5,482.7 883.0,428.5" fill="#9c9e90" stroke="#9c9e90"  stroke-linejoin="round" stroke-width="1"/>
<polygon points="1060.5,466.5 1113.5,380.5 1113.3,389.5 1059.5,482.7" fill="#a5a799" stroke="#a5a799"  stroke-linejoin="round" stroke-width="1"/>
<polygon points="881.4,416.5 1060.5,466.5 1113.5,380.5 975.0,355.0" fill="#a2a496" stroke="#a2a496"  stroke-linejoin="round" stroke-width="1"/>
<polyline points="884.8,415.7 1059.5,464.1" fill="none" stroke="#d8d1a2" stroke-width="1.0" stroke-dasharray="0 3.8" stroke-linecap="round" opacity="0.8"/>
<polyline points="889.4,412.6 1062.3,459.6" fill="none" stroke="#d8d1a2" stroke-width="1.0" stroke-dasharray="0 3.8" stroke-linecap="round" opacity="0.8"/>
<polyline points="893.9,409.6 1065.0,455.3" fill="none" stroke="#d8d1a2" stroke-width="1.0" stroke-dasharray="0 3.8" stroke-linecap="round" opacity="0.8"/>
<polyline points="898.3,406.7 1067.6,451.1" fill="none" stroke="#d8d1a2" stroke-width="1.0" stroke-dasharray="0 3.8" stroke-linecap="round" opacity="0.8"/>
<polyline points="902.6,403.9 1070.1,447.0" fill="none" stroke="#d8d1a2" stroke-width="1.0" stroke-dasharray="0 3.8" stroke-linecap="round" opacity="0.8"/>
<polyline points="906.7,401.1 1072.6,443.1" fill="none" stroke="#d8d1a2" stroke-width="1.0" stroke-dasharray="0 3.8" stroke-linecap="round" opacity="0.8"/>
<polyline points="910.8,398.4 1075.0,439.2" fill="none" stroke="#d8d1a2" stroke-width="1.0" stroke-dasharray="0 3.8" stroke-linecap="round" opacity="0.8"/>
<polyline points="914.8,395.8 1077.3,435.5" fill="none" stroke="#d8d1a2" stroke-width="1.0" stroke-dasharray="0 3.8" stroke-linecap="round" opacity="0.8"/>
<polyline points="918.7,393.3 1079.6,431.9" fill="none" stroke="#d8d1a2" stroke-width="1.0" stroke-dasharray="0 3.8" stroke-linecap="round" opacity="0.8"/>
<polyline points="922.4,390.8 1081.8,428.4" fill="none" stroke="#d8d1a2" stroke-width="1.0" stroke-dasharray="0 3.8" stroke-linecap="round" opacity="0.8"/>
<polyline points="926.1,388.3 1083.9,425.0" fill="none" stroke="#d8d1a2" stroke-width="1.0" stroke-dasharray="0 3.8" stroke-linecap="round" opacity="0.8"/>
<polyline points="929.7,385.9 1086.0,421.7" fill="none" stroke="#d8d1a2" stroke-width="1.0" stroke-dasharray="0 3.8" stroke-linecap="round" opacity="0.8"/>
<polyline points="933.2,383.6 1088.0,418.5" fill="none" stroke="#d8d1a2" stroke-width="1.0" stroke-dasharray="0 3.8" stroke-linecap="round" opacity="0.8"/>
<polyline points="936.7,381.3 1089.9,415.3" fill="none" stroke="#d8d1a2" stroke-width="1.0" stroke-dasharray="0 3.8" stroke-linecap="round" opacity="0.8"/>
<polyline points="940.1,379.1 1091.8,412.3" fill="none" stroke="#d8d1a2" stroke-width="1.0" stroke-dasharray="0 3.8" stroke-linecap="round" opacity="0.8"/>
<polyline points="943.3,376.9 1093.7,409.3" fill="none" stroke="#d8d1a2" stroke-width="1.0" stroke-dasharray="0 3.8" stroke-linecap="round" opacity="0.8"/>
<polyline points="946.6,374.8 1095.5,406.4" fill="none" stroke="#d8d1a2" stroke-width="1.0" stroke-dasharray="0 3.8" stroke-linecap="round" opacity="0.8"/>
<polyline points="949.7,372.7 1097.3,403.6" fill="none" stroke="#d8d1a2" stroke-width="1.0" stroke-dasharray="0 3.8" stroke-linecap="round" opacity="0.8"/>
<polyline points="952.8,370.7 1099.0,400.9" fill="none" stroke="#d8d1a2" stroke-width="1.0" stroke-dasharray="0 3.8" stroke-linecap="round" opacity="0.8"/>
<polyline points="955.8,368.7 1100.7,398.2" fill="none" stroke="#d8d1a2" stroke-width="1.0" stroke-dasharray="0 3.8" stroke-linecap="round" opacity="0.8"/>
<polyline points="958.7,366.8 1102.3,395.6" fill="none" stroke="#d8d1a2" stroke-width="1.0" stroke-dasharray="0 3.8" stroke-linecap="round" opacity="0.8"/>
<polyline points="961.6,364.9 1103.9,393.0" fill="none" stroke="#d8d1a2" stroke-width="1.0" stroke-dasharray="0 3.8" stroke-linecap="round" opacity="0.8"/>
<polyline points="964.4,363.0 1105.5,390.5" fill="none" stroke="#d8d1a2" stroke-width="1.0" stroke-dasharray="0 3.8" stroke-linecap="round" opacity="0.8"/>
<polyline points="967.2,361.2 1107.0,388.1" fill="none" stroke="#d8d1a2" stroke-width="1.0" stroke-dasharray="0 3.8" stroke-linecap="round" opacity="0.8"/>
<polyline points="969.9,359.4 1108.5,385.7" fill="none" stroke="#d8d1a2" stroke-width="1.0" stroke-dasharray="0 3.8" stroke-linecap="round" opacity="0.8"/>
<polyline points="972.6,357.6 1109.9,383.4" fill="none" stroke="#d8d1a2" stroke-width="1.0" stroke-dasharray="0 3.8" stroke-linecap="round" opacity="0.8"/>
<polyline points="975.2,355.9 1111.3,381.1" fill="none" stroke="#d8d1a2" stroke-width="1.0" stroke-dasharray="0 3.8" stroke-linecap="round" opacity="0.8"/>
<polygon points="967.5,361.0 976.7,362.8 976.1,331.2" fill="#8f9284" stroke="#8f9284" stroke-width="0.4" stroke-linejoin="round" />
<polygon points="976.7,362.8 984.5,357.4 976.1,331.2" fill="#86897b" stroke="#86897b" stroke-width="0.4" stroke-linejoin="round" />
<polyline points="967.5,361.0 976.7,362.8 984.5,357.4" fill="none" stroke="#d8d1a2" stroke-width="1.0" stroke-dasharray="0 3.3" stroke-linecap="round" opacity="0.9"/>
<polyline points="968.5,357.4 976.6,359.0 983.5,354.2" fill="none" stroke="#d8d1a2" stroke-width="1.0" stroke-dasharray="0 3.3" stroke-linecap="round" opacity="0.9"/>
<polyline points="969.6,353.8 976.6,355.1 982.4,351.1" fill="none" stroke="#d8d1a2" stroke-width="1.0" stroke-dasharray="0 3.3" stroke-linecap="round" opacity="0.9"/>
<polyline points="970.6,350.2 976.5,351.3 981.4,347.9" fill="none" stroke="#d8d1a2" stroke-width="1.0" stroke-dasharray="0 3.3" stroke-linecap="round" opacity="0.9"/>
<polyline points="971.6,346.5 976.4,347.4 980.4,344.7" fill="none" stroke="#d8d1a2" stroke-width="1.0" stroke-dasharray="0 3.3" stroke-linecap="round" opacity="0.9"/>
<polyline points="972.7,342.9 976.3,343.6 979.4,341.5" fill="none" stroke="#d8d1a2" stroke-width="1.0" stroke-dasharray="0 3.3" stroke-linecap="round" opacity="0.9"/>
<polyline points="973.7,339.3 976.2,339.8 978.3,338.3" fill="none" stroke="#d8d1a2" stroke-width="1.0" stroke-dasharray="0 3.3" stroke-linecap="round" opacity="0.9"/>
<polyline points="974.8,335.7 976.2,335.9 977.3,335.1" fill="none" stroke="#d8d1a2" stroke-width="1.0" stroke-dasharray="0 3.3" stroke-linecap="round" opacity="0.9"/>
<polyline points="967.5,361.0 976.1,331.2" fill="none" stroke="#d8d1a2" stroke-width="1.1" stroke-dasharray="0 2.6" stroke-linecap="round" opacity="1"/>
<polyline points="976.7,362.8 976.1,331.2" fill="none" stroke="#d8d1a2" stroke-width="1.1" stroke-dasharray="0 2.6" stroke-linecap="round" opacity="1"/>
<polyline points="984.5,357.4 976.1,331.2" fill="none" stroke="#d8d1a2" stroke-width="1.1" stroke-dasharray="0 2.6" stroke-linecap="round" opacity="1"/>
<circle cx="976.1" cy="333.7" r="1.8" fill="#d8d1a2"/>
<polygon points="995.9,366.8 1005.8,368.7 1004.5,336.4" fill="#8f9284" stroke="#8f9284" stroke-width="0.4" stroke-linejoin="round" />
<polygon points="1005.8,368.7 1012.9,363.0 1004.5,336.4" fill="#86897b" stroke="#86897b" stroke-width="0.4" stroke-linejoin="round" />
<polyline points="995.9,366.8 1005.8,368.7 1012.9,363.0" fill="none" stroke="#d8d1a2" stroke-width="1.0" stroke-dasharray="0 3.3" stroke-linecap="round" opacity="0.9"/>
<polyline points="997.0,363.1 1005.6,364.8 1011.8,359.8" fill="none" stroke="#d8d1a2" stroke-width="1.0" stroke-dasharray="0 3.3" stroke-linecap="round" opacity="0.9"/>
<polyline points="998.0,359.4 1005.4,360.9 1010.8,356.5" fill="none" stroke="#d8d1a2" stroke-width="1.0" stroke-dasharray="0 3.3" stroke-linecap="round" opacity="0.9"/>
<polyline points="999.0,355.7 1005.3,356.9 1009.8,353.3" fill="none" stroke="#d8d1a2" stroke-width="1.0" stroke-dasharray="0 3.3" stroke-linecap="round" opacity="0.9"/>
<polyline points="1000.1,352.0 1005.1,353.0 1008.8,350.1" fill="none" stroke="#d8d1a2" stroke-width="1.0" stroke-dasharray="0 3.3" stroke-linecap="round" opacity="0.9"/>
<polyline points="1001.1,348.3 1005.0,349.1 1007.8,346.8" fill="none" stroke="#d8d1a2" stroke-width="1.0" stroke-dasharray="0 3.3" stroke-linecap="round" opacity="0.9"/>
<polyline points="1002.2,344.7 1004.8,345.2 1006.8,343.6" fill="none" stroke="#d8d1a2" stroke-width="1.0" stroke-dasharray="0 3.3" stroke-linecap="round" opacity="0.9"/>
<polyline points="1003.2,341.0 1004.7,341.2 1005.7,340.4" fill="none" stroke="#d8d1a2" stroke-width="1.0" stroke-dasharray="0 3.3" stroke-linecap="round" opacity="0.9"/>
<polyline points="995.9,366.8 1004.5,336.4" fill="none" stroke="#d8d1a2" stroke-width="1.1" stroke-dasharray="0 2.6" stroke-linecap="round" opacity="1"/>
<polyline points="1005.8,368.7 1004.5,336.4" fill="none" stroke="#d8d1a2" stroke-width="1.1" stroke-dasharray="0 2.6" stroke-linecap="round" opacity="1"/>
<polyline points="1012.9,363.0 1004.5,336.4" fill="none" stroke="#d8d1a2" stroke-width="1.1" stroke-dasharray="0 2.6" stroke-linecap="round" opacity="1"/>
<circle cx="1004.5" cy="338.9" r="1.8" fill="#d8d1a2"/>
<polygon points="951.0,372.8 960.6,374.8 960.3,341.5" fill="#8f9284" stroke="#8f9284" stroke-width="0.4" stroke-linejoin="round" />
<polygon points="960.6,374.8 969.4,368.7 960.3,341.5" fill="#86897b" stroke="#86897b" stroke-width="0.4" stroke-linejoin="round" />
<polyline points="951.0,372.8 960.6,374.8 969.4,368.7" fill="none" stroke="#d8d1a2" stroke-width="1.0" stroke-dasharray="0 3.3" stroke-linecap="round" opacity="0.9"/>
<polyline points="952.1,369.0 960.6,370.7 968.3,365.4" fill="none" stroke="#d8d1a2" stroke-width="1.0" stroke-dasharray="0 3.3" stroke-linecap="round" opacity="0.9"/>
<polyline points="953.2,365.2 960.6,366.7 967.2,362.1" fill="none" stroke="#d8d1a2" stroke-width="1.0" stroke-dasharray="0 3.3" stroke-linecap="round" opacity="0.9"/>
<polyline points="954.4,361.4 960.5,362.7 966.1,358.8" fill="none" stroke="#d8d1a2" stroke-width="1.0" stroke-dasharray="0 3.3" stroke-linecap="round" opacity="0.9"/>
<polyline points="955.5,357.6 960.5,358.6 965.0,355.5" fill="none" stroke="#d8d1a2" stroke-width="1.0" stroke-dasharray="0 3.3" stroke-linecap="round" opacity="0.9"/>
<polyline points="956.6,353.8 960.4,354.6 963.9,352.2" fill="none" stroke="#d8d1a2" stroke-width="1.0" stroke-dasharray="0 3.3" stroke-linecap="round" opacity="0.9"/>
<polyline points="957.8,350.0 960.4,350.5 962.8,348.9" fill="none" stroke="#d8d1a2" stroke-width="1.0" stroke-dasharray="0 3.3" stroke-linecap="round" opacity="0.9"/>
<polyline points="958.9,346.2 960.3,346.5 961.7,345.5" fill="none" stroke="#d8d1a2" stroke-width="1.0" stroke-dasharray="0 3.3" stroke-linecap="round" opacity="0.9"/>
<polyline points="951.0,372.8 960.3,341.5" fill="none" stroke="#d8d1a2" stroke-width="1.1" stroke-dasharray="0 2.6" stroke-linecap="round" opacity="1"/>
<polyline points="960.6,374.8 960.3,341.5" fill="none" stroke="#d8d1a2" stroke-width="1.1" stroke-dasharray="0 2.6" stroke-linecap="round" opacity="1"/>
<polyline points="969.4,368.7 960.3,341.5" fill="none" stroke="#d8d1a2" stroke-width="1.1" stroke-dasharray="0 2.6" stroke-linecap="round" opacity="1"/>
<circle cx="960.3" cy="344.0" r="1.8" fill="#d8d1a2"/>
<polygon points="1026.2,373.0 1036.7,375.0 1034.7,341.9" fill="#8f9284" stroke="#8f9284" stroke-width="0.4" stroke-linejoin="round" />
<polygon points="1036.7,375.0 1043.0,368.9 1034.7,341.9" fill="#86897b" stroke="#86897b" stroke-width="0.4" stroke-linejoin="round" />
<polyline points="1026.2,373.0 1036.7,375.0 1043.0,368.9" fill="none" stroke="#d8d1a2" stroke-width="1.0" stroke-dasharray="0 3.3" stroke-linecap="round" opacity="0.9"/>
<polyline points="1027.2,369.2 1036.4,371.0 1042.0,365.6" fill="none" stroke="#d8d1a2" stroke-width="1.0" stroke-dasharray="0 3.3" stroke-linecap="round" opacity="0.9"/>
<polyline points="1028.2,365.4 1036.2,367.0 1041.0,362.3" fill="none" stroke="#d8d1a2" stroke-width="1.0" stroke-dasharray="0 3.3" stroke-linecap="round" opacity="0.9"/>
<polyline points="1029.3,361.7 1035.9,362.9 1040.0,359.1" fill="none" stroke="#d8d1a2" stroke-width="1.0" stroke-dasharray="0 3.3" stroke-linecap="round" opacity="0.9"/>
<polyline points="1030.3,357.9 1035.7,358.9 1039.0,355.8" fill="none" stroke="#d8d1a2" stroke-width="1.0" stroke-dasharray="0 3.3" stroke-linecap="round" opacity="0.9"/>
<polyline points="1031.3,354.1 1035.5,354.9 1038.0,352.5" fill="none" stroke="#d8d1a2" stroke-width="1.0" stroke-dasharray="0 3.3" stroke-linecap="round" opacity="0.9"/>
<polyline points="1032.4,350.3 1035.2,350.9 1036.9,349.2" fill="none" stroke="#d8d1a2" stroke-width="1.0" stroke-dasharray="0 3.3" stroke-linecap="round" opacity="0.9"/>
<polyline points="1033.4,346.6 1035.0,346.9 1035.9,346.0" fill="none" stroke="#d8d1a2" stroke-width="1.0" stroke-dasharray="0 3.3" stroke-linecap="round" opacity="0.9"/>
<polyline points="1026.2,373.0 1034.7,341.9" fill="none" stroke="#d8d1a2" stroke-width="1.1" stroke-dasharray="0 2.6" stroke-linecap="round" opacity="1"/>
<polyline points="1036.7,375.0 1034.7,341.9" fill="none" stroke="#d8d1a2" stroke-width="1.1" stroke-dasharray="0 2.6" stroke-linecap="round" opacity="1"/>
<polyline points="1043.0,368.9 1034.7,341.9" fill="none" stroke="#d8d1a2" stroke-width="1.1" stroke-dasharray="0 2.6" stroke-linecap="round" opacity="1"/>
<circle cx="1034.7" cy="344.4" r="1.8" fill="#d8d1a2"/>
<polygon points="980.5,379.2 990.9,381.4 989.8,347.3" fill="#8f9284" stroke="#8f9284" stroke-width="0.4" stroke-linejoin="round" />
<polygon points="990.9,381.4 999.0,374.9 989.8,347.3" fill="#86897b" stroke="#86897b" stroke-width="0.4" stroke-linejoin="round" />
<polyline points="980.5,379.2 990.9,381.4 999.0,374.9" fill="none" stroke="#d8d1a2" stroke-width="1.0" stroke-dasharray="0 3.3" stroke-linecap="round" opacity="0.9"/>
<polyline points="981.7,375.4 990.8,377.3 997.9,371.5" fill="none" stroke="#d8d1a2" stroke-width="1.0" stroke-dasharray="0 3.3" stroke-linecap="round" opacity="0.9"/>
<polyline points="982.8,371.5 990.6,373.1 996.7,368.2" fill="none" stroke="#d8d1a2" stroke-width="1.0" stroke-dasharray="0 3.3" stroke-linecap="round" opacity="0.9"/>
<polyline points="983.9,367.6 990.5,369.0 995.6,364.8" fill="none" stroke="#d8d1a2" stroke-width="1.0" stroke-dasharray="0 3.3" stroke-linecap="round" opacity="0.9"/>
<polyline points="985.1,363.7 990.4,364.8 994.5,361.5" fill="none" stroke="#d8d1a2" stroke-width="1.0" stroke-dasharray="0 3.3" stroke-linecap="round" opacity="0.9"/>
<polyline points="986.2,359.8 990.3,360.7 993.4,358.1" fill="none" stroke="#d8d1a2" stroke-width="1.0" stroke-dasharray="0 3.3" stroke-linecap="round" opacity="0.9"/>
<polyline points="987.3,356.0 990.1,356.5 992.3,354.8" fill="none" stroke="#d8d1a2" stroke-width="1.0" stroke-dasharray="0 3.3" stroke-linecap="round" opacity="0.9"/>
<polyline points="988.5,352.1 990.0,352.4 991.2,351.4" fill="none" stroke="#d8d1a2" stroke-width="1.0" stroke-dasharray="0 3.3" stroke-linecap="round" opacity="0.9"/>
<polyline points="980.5,379.2 989.8,347.3" fill="none" stroke="#d8d1a2" stroke-width="1.1" stroke-dasharray="0 2.6" stroke-linecap="round" opacity="1"/>
<polyline points="990.9,381.4 989.8,347.3" fill="none" stroke="#d8d1a2" stroke-width="1.1" stroke-dasharray="0 2.6" stroke-linecap="round" opacity="1"/>
<polyline points="999.0,374.9 989.8,347.3" fill="none" stroke="#d8d1a2" stroke-width="1.1" stroke-dasharray="0 2.6" stroke-linecap="round" opacity="1"/>
<circle cx="989.8" cy="349.8" r="1.8" fill="#d8d1a2"/>
<polygon points="1058.4,379.5 1069.6,381.7 1066.8,347.8" fill="#8f9284" stroke="#8f9284" stroke-width="0.4" stroke-linejoin="round" />
<polygon points="1069.6,381.7 1075.1,375.1 1066.8,347.8" fill="#86897b" stroke="#86897b" stroke-width="0.4" stroke-linejoin="round" />
<polyline points="1058.4,379.5 1069.6,381.7 1075.1,375.1" fill="none" stroke="#d8d1a2" stroke-width="1.0" stroke-dasharray="0 3.3" stroke-linecap="round" opacity="0.9"/>
<polyline points="1059.4,375.6 1069.3,377.5 1074.1,371.8" fill="none" stroke="#d8d1a2" stroke-width="1.0" stroke-dasharray="0 3.3" stroke-linecap="round" opacity="0.9"/>
<polyline points="1060.4,371.8 1068.9,373.4 1073.1,368.5" fill="none" stroke="#d8d1a2" stroke-width="1.0" stroke-dasharray="0 3.3" stroke-linecap="round" opacity="0.9"/>
<polyline points="1061.5,367.9 1068.6,369.3 1072.1,365.2" fill="none" stroke="#d8d1a2" stroke-width="1.0" stroke-dasharray="0 3.3" stroke-linecap="round" opacity="0.9"/>
<polyline points="1062.5,364.1 1068.3,365.2 1071.1,361.8" fill="none" stroke="#d8d1a2" stroke-width="1.0" stroke-dasharray="0 3.3" stroke-linecap="round" opacity="0.9"/>
<polyline points="1063.5,360.2 1067.9,361.1 1070.1,358.5" fill="none" stroke="#d8d1a2" stroke-width="1.0" stroke-dasharray="0 3.3" stroke-linecap="round" opacity="0.9"/>
<polyline points="1064.5,356.4 1067.6,357.0 1069.1,355.2" fill="none" stroke="#d8d1a2" stroke-width="1.0" stroke-dasharray="0 3.3" stroke-linecap="round" opacity="0.9"/>
<polyline points="1065.6,352.5 1067.2,352.9 1068.1,351.9" fill="none" stroke="#d8d1a2" stroke-width="1.0" stroke-dasharray="0 3.3" stroke-linecap="round" opacity="0.9"/>
<polyline points="1058.4,379.5 1066.8,347.8" fill="none" stroke="#d8d1a2" stroke-width="1.1" stroke-dasharray="0 2.6" stroke-linecap="round" opacity="1"/>
<polyline points="1069.6,381.7 1066.8,347.8" fill="none" stroke="#d8d1a2" stroke-width="1.1" stroke-dasharray="0 2.6" stroke-linecap="round" opacity="1"/>
<polyline points="1075.1,375.1 1066.8,347.8" fill="none" stroke="#d8d1a2" stroke-width="1.1" stroke-dasharray="0 2.6" stroke-linecap="round" opacity="1"/>
<circle cx="1066.8" cy="350.3" r="1.8" fill="#d8d1a2"/>
<polygon points="932.4,385.8 942.6,388.1 942.6,352.9" fill="#8f9284" stroke="#8f9284" stroke-width="0.4" stroke-linejoin="round" />
<polygon points="942.6,388.1 952.6,381.1 942.6,352.9" fill="#86897b" stroke="#86897b" stroke-width="0.4" stroke-linejoin="round" />
<polyline points="932.4,385.8 942.6,388.1 952.6,381.1" fill="none" stroke="#d8d1a2" stroke-width="1.0" stroke-dasharray="0 3.3" stroke-linecap="round" opacity="0.9"/>
<polyline points="933.7,381.8 942.6,383.8 951.4,377.7" fill="none" stroke="#d8d1a2" stroke-width="1.0" stroke-dasharray="0 3.3" stroke-linecap="round" opacity="0.9"/>
<polyline points="934.9,377.8 942.6,379.6 950.2,374.3" fill="none" stroke="#d8d1a2" stroke-width="1.0" stroke-dasharray="0 3.3" stroke-linecap="round" opacity="0.9"/>
<polyline points="936.2,373.8 942.6,375.3 949.0,370.9" fill="none" stroke="#d8d1a2" stroke-width="1.0" stroke-dasharray="0 3.3" stroke-linecap="round" opacity="0.9"/>
<polyline points="937.4,369.8 942.6,371.0 947.8,367.4" fill="none" stroke="#d8d1a2" stroke-width="1.0" stroke-dasharray="0 3.3" stroke-linecap="round" opacity="0.9"/>
<polyline points="938.6,365.9 942.6,366.8 946.5,364.0" fill="none" stroke="#d8d1a2" stroke-width="1.0" stroke-dasharray="0 3.3" stroke-linecap="round" opacity="0.9"/>
<polyline points="939.9,361.9 942.6,362.5 945.3,360.6" fill="none" stroke="#d8d1a2" stroke-width="1.0" stroke-dasharray="0 3.3" stroke-linecap="round" opacity="0.9"/>
<polyline points="941.1,357.9 942.6,358.2 944.1,357.2" fill="none" stroke="#d8d1a2" stroke-width="1.0" stroke-dasharray="0 3.3" stroke-linecap="round" opacity="0.9"/>
<polyline points="932.4,385.8 942.6,352.9" fill="none" stroke="#d8d1a2" stroke-width="1.1" stroke-dasharray="0 2.6" stroke-linecap="round" opacity="1"/>
<polyline points="942.6,388.1 942.6,352.9" fill="none" stroke="#d8d1a2" stroke-width="1.1" stroke-dasharray="0 2.6" stroke-linecap="round" opacity="1"/>
<polyline points="952.6,381.1 942.6,352.9" fill="none" stroke="#d8d1a2" stroke-width="1.1" stroke-dasharray="0 2.6" stroke-linecap="round" opacity="1"/>
<circle cx="942.6" cy="355.4" r="1.8" fill="#d8d1a2"/>
<polygon points="1012.1,386.1 1023.2,388.4 1021.4,353.5" fill="#8f9284" stroke="#8f9284" stroke-width="0.4" stroke-linejoin="round" />
<polygon points="1023.2,388.4 1030.4,381.4 1021.4,353.5" fill="#86897b" stroke="#86897b" stroke-width="0.4" stroke-linejoin="round" />
<polyline points="1012.1,386.1 1023.2,388.4 1030.4,381.4" fill="none" stroke="#d8d1a2" stroke-width="1.0" stroke-dasharray="0 3.3" stroke-linecap="round" opacity="0.9"/>
<polyline points="1013.2,382.1 1023.0,384.2 1029.3,378.0" fill="none" stroke="#d8d1a2" stroke-width="1.0" stroke-dasharray="0 3.3" stroke-linecap="round" opacity="0.9"/>
<polyline points="1014.3,378.2 1022.7,379.9 1028.2,374.6" fill="none" stroke="#d8d1a2" stroke-width="1.0" stroke-dasharray="0 3.3" stroke-linecap="round" opacity="0.9"/>
<polyline points="1015.5,374.2 1022.5,375.7 1027.1,371.3" fill="none" stroke="#d8d1a2" stroke-width="1.0" stroke-dasharray="0 3.3" stroke-linecap="round" opacity="0.9"/>
<polyline points="1016.6,370.3 1022.3,371.5 1026.0,367.9" fill="none" stroke="#d8d1a2" stroke-width="1.0" stroke-dasharray="0 3.3" stroke-linecap="round" opacity="0.9"/>
<polyline points="1017.7,366.3 1022.1,367.2 1024.9,364.5" fill="none" stroke="#d8d1a2" stroke-width="1.0" stroke-dasharray="0 3.3" stroke-linecap="round" opacity="0.9"/>
<polyline points="1018.9,362.3 1021.9,363.0 1023.8,361.1" fill="none" stroke="#d8d1a2" stroke-width="1.0" stroke-dasharray="0 3.3" stroke-linecap="round" opacity="0.9"/>
<polyline points="1020.0,358.4 1021.6,358.7 1022.7,357.7" fill="none" stroke="#d8d1a2" stroke-width="1.0" stroke-dasharray="0 3.3" stroke-linecap="round" opacity="0.9"/>
<polyline points="1012.1,386.1 1021.4,353.5" fill="none" stroke="#d8d1a2" stroke-width="1.1" stroke-dasharray="0 2.6" stroke-linecap="round" opacity="1"/>
<polyline points="1023.2,388.4 1021.4,353.5" fill="none" stroke="#d8d1a2" stroke-width="1.1" stroke-dasharray="0 2.6" stroke-linecap="round" opacity="1"/>
<polyline points="1030.4,381.4 1021.4,353.5" fill="none" stroke="#d8d1a2" stroke-width="1.1" stroke-dasharray="0 2.6" stroke-linecap="round" opacity="1"/>
<circle cx="1021.4" cy="356.0" r="1.8" fill="#d8d1a2"/>
<polygon points="1092.8,386.4 1104.8,388.7 1101.1,354.0" fill="#8f9284" stroke="#8f9284" stroke-width="0.4" stroke-linejoin="round" />
<polygon points="1104.8,388.7 1109.3,381.7 1101.1,354.0" fill="#86897b" stroke="#86897b" stroke-width="0.4" stroke-linejoin="round" />
<polyline points="1092.8,386.4 1104.8,388.7 1109.3,381.7" fill="none" stroke="#d8d1a2" stroke-width="1.0" stroke-dasharray="0 3.3" stroke-linecap="round" opacity="0.9"/>
<polyline points="1093.8,382.5 1104.4,384.5 1108.3,378.4" fill="none" stroke="#d8d1a2" stroke-width="1.0" stroke-dasharray="0 3.3" stroke-linecap="round" opacity="0.9"/>
<polyline points="1094.8,378.6 1103.9,380.3 1107.3,375.0" fill="none" stroke="#d8d1a2" stroke-width="1.0" stroke-dasharray="0 3.3" stroke-linecap="round" opacity="0.9"/>
<polyline points="1095.8,374.6 1103.5,376.1 1106.3,371.6" fill="none" stroke="#d8d1a2" stroke-width="1.0" stroke-dasharray="0 3.3" stroke-linecap="round" opacity="0.9"/>
<polyline points="1096.8,370.7 1103.0,371.9 1105.3,368.3" fill="none" stroke="#d8d1a2" stroke-width="1.0" stroke-dasharray="0 3.3" stroke-linecap="round" opacity="0.9"/>
<polyline points="1097.8,366.8 1102.6,367.7 1104.3,364.9" fill="none" stroke="#d8d1a2" stroke-width="1.0" stroke-dasharray="0 3.3" stroke-linecap="round" opacity="0.9"/>
<polyline points="1098.9,362.8 1102.1,363.5 1103.3,361.6" fill="none" stroke="#d8d1a2" stroke-width="1.0" stroke-dasharray="0 3.3" stroke-linecap="round" opacity="0.9"/>
<polyline points="1099.9,358.9 1101.7,359.2 1102.3,358.2" fill="none" stroke="#d8d1a2" stroke-width="1.0" stroke-dasharray="0 3.3" stroke-linecap="round" opacity="0.9"/>
<polyline points="1092.8,386.4 1101.1,354.0" fill="none" stroke="#d8d1a2" stroke-width="1.1" stroke-dasharray="0 2.6" stroke-linecap="round" opacity="1"/>
<polyline points="1104.8,388.7 1101.1,354.0" fill="none" stroke="#d8d1a2" stroke-width="1.1" stroke-dasharray="0 2.6" stroke-linecap="round" opacity="1"/>
<polyline points="1109.3,381.7 1101.1,354.0" fill="none" stroke="#d8d1a2" stroke-width="1.1" stroke-dasharray="0 2.6" stroke-linecap="round" opacity="1"/>
<circle cx="1101.1" cy="356.5" r="1.8" fill="#d8d1a2"/>
<polygon points="963.2,393.0 974.1,395.5 973.4,359.5" fill="#8f9284" stroke="#8f9284" stroke-width="0.4" stroke-linejoin="round" />
<polygon points="974.1,395.5 983.4,388.1 973.4,359.5" fill="#86897b" stroke="#86897b" stroke-width="0.4" stroke-linejoin="round" />
<polyline points="963.2,393.0 974.1,395.5 983.4,388.1" fill="none" stroke="#d8d1a2" stroke-width="1.0" stroke-dasharray="0 3.3" stroke-linecap="round" opacity="0.9"/>
<polyline points="964.5,389.0 974.0,391.2 982.1,384.6" fill="none" stroke="#d8d1a2" stroke-width="1.0" stroke-dasharray="0 3.3" stroke-linecap="round" opacity="0.9"/>
<polyline points="965.7,384.9 974.0,386.8 980.9,381.1" fill="none" stroke="#d8d1a2" stroke-width="1.0" stroke-dasharray="0 3.3" stroke-linecap="round" opacity="0.9"/>
<polyline points="966.9,380.8 973.9,382.4 979.7,377.7" fill="none" stroke="#d8d1a2" stroke-width="1.0" stroke-dasharray="0 3.3" stroke-linecap="round" opacity="0.9"/>
<polyline points="968.2,376.8 973.8,378.0 978.5,374.2" fill="none" stroke="#d8d1a2" stroke-width="1.0" stroke-dasharray="0 3.3" stroke-linecap="round" opacity="0.9"/>
<polyline points="969.4,372.7 973.7,373.7 977.3,370.7" fill="none" stroke="#d8d1a2" stroke-width="1.0" stroke-dasharray="0 3.3" stroke-linecap="round" opacity="0.9"/>
<polyline points="970.6,368.6 973.6,369.3 976.1,367.3" fill="none" stroke="#d8d1a2" stroke-width="1.0" stroke-dasharray="0 3.3" stroke-linecap="round" opacity="0.9"/>
<polyline points="971.9,364.5 973.5,364.9 974.9,363.8" fill="none" stroke="#d8d1a2" stroke-width="1.0" stroke-dasharray="0 3.3" stroke-linecap="round" opacity="0.9"/>
<polyline points="963.2,393.0 973.4,359.5" fill="none" stroke="#d8d1a2" stroke-width="1.1" stroke-dasharray="0 2.6" stroke-linecap="round" opacity="1"/>
<polyline points="974.1,395.5 973.4,359.5" fill="none" stroke="#d8d1a2" stroke-width="1.1" stroke-dasharray="0 2.6" stroke-linecap="round" opacity="1"/>
<polyline points="983.4,388.1 973.4,359.5" fill="none" stroke="#d8d1a2" stroke-width="1.1" stroke-dasharray="0 2.6" stroke-linecap="round" opacity="1"/>
<circle cx="973.4" cy="362.0" r="1.8" fill="#d8d1a2"/>
<polygon points="1045.9,393.4 1057.8,395.9 1055.1,360.1" fill="#8f9284" stroke="#8f9284" stroke-width="0.4" stroke-linejoin="round" />
<polygon points="1057.8,395.9 1064.0,388.4 1055.1,360.1" fill="#86897b" stroke="#86897b" stroke-width="0.4" stroke-linejoin="round" />
<polyline points="1045.9,393.4 1057.8,395.9 1064.0,388.4" fill="none" stroke="#d8d1a2" stroke-width="1.0" stroke-dasharray="0 3.3" stroke-linecap="round" opacity="0.9"/>
<polyline points="1047.0,389.4 1057.4,391.6 1062.9,385.0" fill="none" stroke="#d8d1a2" stroke-width="1.0" stroke-dasharray="0 3.3" stroke-linecap="round" opacity="0.9"/>
<polyline points="1048.1,385.3 1057.1,387.2 1061.9,381.5" fill="none" stroke="#d8d1a2" stroke-width="1.0" stroke-dasharray="0 3.3" stroke-linecap="round" opacity="0.9"/>
<polyline points="1049.2,381.3 1056.8,382.9 1060.8,378.1" fill="none" stroke="#d8d1a2" stroke-width="1.0" stroke-dasharray="0 3.3" stroke-linecap="round" opacity="0.9"/>
<polyline points="1050.3,377.2 1056.4,378.5 1059.7,374.7" fill="none" stroke="#d8d1a2" stroke-width="1.0" stroke-dasharray="0 3.3" stroke-linecap="round" opacity="0.9"/>
<polyline points="1051.4,373.2 1056.1,374.2 1058.6,371.2" fill="none" stroke="#d8d1a2" stroke-width="1.0" stroke-dasharray="0 3.3" stroke-linecap="round" opacity="0.9"/>
<polyline points="1052.6,369.2 1055.8,369.8 1057.5,367.8" fill="none" stroke="#d8d1a2" stroke-width="1.0" stroke-dasharray="0 3.3" stroke-linecap="round" opacity="0.9"/>
<polyline points="1053.7,365.1 1055.5,365.5 1056.4,364.4" fill="none" stroke="#d8d1a2" stroke-width="1.0" stroke-dasharray="0 3.3" stroke-linecap="round" opacity="0.9"/>
<polyline points="1045.9,393.4 1055.1,360.1" fill="none" stroke="#d8d1a2" stroke-width="1.1" stroke-dasharray="0 2.6" stroke-linecap="round" opacity="1"/>
<polyline points="1057.8,395.9 1055.1,360.1" fill="none" stroke="#d8d1a2" stroke-width="1.1" stroke-dasharray="0 2.6" stroke-linecap="round" opacity="1"/>
<polyline points="1064.0,388.4 1055.1,360.1" fill="none" stroke="#d8d1a2" stroke-width="1.1" stroke-dasharray="0 2.6" stroke-linecap="round" opacity="1"/>
<circle cx="1055.1" cy="362.6" r="1.8" fill="#d8d1a2"/>
<polygon points="911.6,400.3 922.2,403.0 922.7,365.9" fill="#8f9284" stroke="#8f9284" stroke-width="0.4" stroke-linejoin="round" />
<polygon points="922.2,403.0 933.6,395.0 922.7,365.9" fill="#86897b" stroke="#86897b" stroke-width="0.4" stroke-linejoin="round" />
<polyline points="911.6,400.3 922.2,403.0 933.6,395.0" fill="none" stroke="#d8d1a2" stroke-width="1.0" stroke-dasharray="0 3.3" stroke-linecap="round" opacity="0.9"/>
<polyline points="912.9,396.2 922.3,398.5 932.3,391.5" fill="none" stroke="#d8d1a2" stroke-width="1.0" stroke-dasharray="0 3.3" stroke-linecap="round" opacity="0.9"/>
<polyline points="914.3,392.0 922.3,394.0 931.0,387.9" fill="none" stroke="#d8d1a2" stroke-width="1.0" stroke-dasharray="0 3.3" stroke-linecap="round" opacity="0.9"/>
<polyline points="915.6,387.8 922.4,389.5 929.7,384.4" fill="none" stroke="#d8d1a2" stroke-width="1.0" stroke-dasharray="0 3.3" stroke-linecap="round" opacity="0.9"/>
<polyline points="917.0,383.6 922.5,385.0 928.3,380.9" fill="none" stroke="#d8d1a2" stroke-width="1.0" stroke-dasharray="0 3.3" stroke-linecap="round" opacity="0.9"/>
<polyline points="918.3,379.4 922.5,380.5 927.0,377.3" fill="none" stroke="#d8d1a2" stroke-width="1.0" stroke-dasharray="0 3.3" stroke-linecap="round" opacity="0.9"/>
<polyline points="919.7,375.2 922.6,376.0 925.7,373.8" fill="none" stroke="#d8d1a2" stroke-width="1.0" stroke-dasharray="0 3.3" stroke-linecap="round" opacity="0.9"/>
<polyline points="921.1,371.1 922.7,371.5 924.4,370.3" fill="none" stroke="#d8d1a2" stroke-width="1.0" stroke-dasharray="0 3.3" stroke-linecap="round" opacity="0.9"/>
<polyline points="911.6,400.3 922.7,365.9" fill="none" stroke="#d8d1a2" stroke-width="1.1" stroke-dasharray="0 2.6" stroke-linecap="round" opacity="1"/>
<polyline points="922.2,403.0 922.7,365.9" fill="none" stroke="#d8d1a2" stroke-width="1.1" stroke-dasharray="0 2.6" stroke-linecap="round" opacity="1"/>
<polyline points="933.6,395.0 922.7,365.9" fill="none" stroke="#d8d1a2" stroke-width="1.1" stroke-dasharray="0 2.6" stroke-linecap="round" opacity="1"/>
<circle cx="922.7" cy="368.4" r="1.8" fill="#d8d1a2"/>
<polygon points="996.2,400.8 1007.9,403.4 1006.4,366.6" fill="#8f9284" stroke="#8f9284" stroke-width="0.4" stroke-linejoin="round" />
<polygon points="1007.9,403.4 1016.3,395.4 1006.4,366.6" fill="#86897b" stroke="#86897b" stroke-width="0.4" stroke-linejoin="round" />
<polyline points="996.2,400.8 1007.9,403.4 1016.3,395.4" fill="none" stroke="#d8d1a2" stroke-width="1.0" stroke-dasharray="0 3.3" stroke-linecap="round" opacity="0.9"/>
<polyline points="997.5,396.6 1007.7,399.0 1015.1,391.9" fill="none" stroke="#d8d1a2" stroke-width="1.0" stroke-dasharray="0 3.3" stroke-linecap="round" opacity="0.9"/>
<polyline points="998.7,392.5 1007.6,394.5 1013.9,388.4" fill="none" stroke="#d8d1a2" stroke-width="1.0" stroke-dasharray="0 3.3" stroke-linecap="round" opacity="0.9"/>
<polyline points="999.9,388.3 1007.4,390.0 1012.7,384.9" fill="none" stroke="#d8d1a2" stroke-width="1.0" stroke-dasharray="0 3.3" stroke-linecap="round" opacity="0.9"/>
<polyline points="1001.2,384.2 1007.2,385.5 1011.5,381.4" fill="none" stroke="#d8d1a2" stroke-width="1.0" stroke-dasharray="0 3.3" stroke-linecap="round" opacity="0.9"/>
<polyline points="1002.4,380.0 1007.0,381.0 1010.3,377.9" fill="none" stroke="#d8d1a2" stroke-width="1.0" stroke-dasharray="0 3.3" stroke-linecap="round" opacity="0.9"/>
<polyline points="1003.6,375.8 1006.8,376.6 1009.1,374.4" fill="none" stroke="#d8d1a2" stroke-width="1.0" stroke-dasharray="0 3.3" stroke-linecap="round" opacity="0.9"/>
<polyline points="1004.8,371.7 1006.6,372.1 1007.9,370.9" fill="none" stroke="#d8d1a2" stroke-width="1.0" stroke-dasharray="0 3.3" stroke-linecap="round" opacity="0.9"/>
<polyline points="996.2,400.8 1006.4,366.6" fill="none" stroke="#d8d1a2" stroke-width="1.1" stroke-dasharray="0 2.6" stroke-linecap="round" opacity="1"/>
<polyline points="1007.9,403.4 1006.4,366.6" fill="none" stroke="#d8d1a2" stroke-width="1.1" stroke-dasharray="0 2.6" stroke-linecap="round" opacity="1"/>
<polyline points="1016.3,395.4 1006.4,366.6" fill="none" stroke="#d8d1a2" stroke-width="1.1" stroke-dasharray="0 2.6" stroke-linecap="round" opacity="1"/>
<circle cx="1006.4" cy="369.1" r="1.8" fill="#d8d1a2"/>
<polygon points="1082.1,401.2 1094.9,403.9 1091.1,367.2" fill="#8f9284" stroke="#8f9284" stroke-width="0.4" stroke-linejoin="round" />
<polygon points="1094.9,403.9 1100.0,395.8 1091.1,367.2" fill="#86897b" stroke="#86897b" stroke-width="0.4" stroke-linejoin="round" />
<polyline points="1082.1,401.2 1094.9,403.9 1100.0,395.8" fill="none" stroke="#d8d1a2" stroke-width="1.0" stroke-dasharray="0 3.3" stroke-linecap="round" opacity="0.9"/>
<polyline points="1083.2,397.1 1094.4,399.4 1098.9,392.3" fill="none" stroke="#d8d1a2" stroke-width="1.0" stroke-dasharray="0 3.3" stroke-linecap="round" opacity="0.9"/>
<polyline points="1084.3,393.0 1094.0,395.0 1097.8,388.9" fill="none" stroke="#d8d1a2" stroke-width="1.0" stroke-dasharray="0 3.3" stroke-linecap="round" opacity="0.9"/>
<polyline points="1085.4,388.8 1093.5,390.5 1096.8,385.4" fill="none" stroke="#d8d1a2" stroke-width="1.0" stroke-dasharray="0 3.3" stroke-linecap="round" opacity="0.9"/>
<polyline points="1086.5,384.7 1093.1,386.1 1095.7,381.9" fill="none" stroke="#d8d1a2" stroke-width="1.0" stroke-dasharray="0 3.3" stroke-linecap="round" opacity="0.9"/>
<polyline points="1087.6,380.6 1092.6,381.6 1094.6,378.5" fill="none" stroke="#d8d1a2" stroke-width="1.0" stroke-dasharray="0 3.3" stroke-linecap="round" opacity="0.9"/>
<polyline points="1088.7,376.5 1092.1,377.2 1093.5,375.0" fill="none" stroke="#d8d1a2" stroke-width="1.0" stroke-dasharray="0 3.3" stroke-linecap="round" opacity="0.9"/>
<polyline points="1089.8,372.3 1091.7,372.7 1092.5,371.5" fill="none" stroke="#d8d1a2" stroke-width="1.0" stroke-dasharray="0 3.3" stroke-linecap="round" opacity="0.9"/>
<polyline points="1082.1,401.2 1091.1,367.2" fill="none" stroke="#d8d1a2" stroke-width="1.1" stroke-dasharray="0 2.6" stroke-linecap="round" opacity="1"/>
<polyline points="1094.9,403.9 1091.1,367.2" fill="none" stroke="#d8d1a2" stroke-width="1.1" stroke-dasharray="0 2.6" stroke-linecap="round" opacity="1"/>
<polyline points="1100.0,395.8 1091.1,367.2" fill="none" stroke="#d8d1a2" stroke-width="1.1" stroke-dasharray="0 2.6" stroke-linecap="round" opacity="1"/>
<circle cx="1091.1" cy="369.7" r="1.8" fill="#d8d1a2"/>
<polygon points="943.6,408.5 955.1,411.4 954.8,373.4" fill="#8f9284" stroke="#8f9284" stroke-width="0.4" stroke-linejoin="round" />
<polygon points="955.1,411.4 965.7,402.8 954.8,373.4" fill="#86897b" stroke="#86897b" stroke-width="0.4" stroke-linejoin="round" />
<polyline points="943.6,408.5 955.1,411.4 965.7,402.8" fill="none" stroke="#d8d1a2" stroke-width="1.0" stroke-dasharray="0 3.3" stroke-linecap="round" opacity="0.9"/>
<polyline points="945.0,404.3 955.1,406.8 964.4,399.2" fill="none" stroke="#d8d1a2" stroke-width="1.0" stroke-dasharray="0 3.3" stroke-linecap="round" opacity="0.9"/>
<polyline points="946.4,400.0 955.0,402.2 963.1,395.6" fill="none" stroke="#d8d1a2" stroke-width="1.0" stroke-dasharray="0 3.3" stroke-linecap="round" opacity="0.9"/>
<polyline points="947.7,395.7 955.0,397.5 961.7,392.1" fill="none" stroke="#d8d1a2" stroke-width="1.0" stroke-dasharray="0 3.3" stroke-linecap="round" opacity="0.9"/>
<polyline points="949.1,391.4 955.0,392.9 960.4,388.5" fill="none" stroke="#d8d1a2" stroke-width="1.0" stroke-dasharray="0 3.3" stroke-linecap="round" opacity="0.9"/>
<polyline points="950.4,387.2 954.9,388.3 959.1,384.9" fill="none" stroke="#d8d1a2" stroke-width="1.0" stroke-dasharray="0 3.3" stroke-linecap="round" opacity="0.9"/>
<polyline points="951.8,382.9 954.9,383.7 957.8,381.3" fill="none" stroke="#d8d1a2" stroke-width="1.0" stroke-dasharray="0 3.3" stroke-linecap="round" opacity="0.9"/>
<polyline points="953.1,378.6 954.9,379.1 956.5,377.8" fill="none" stroke="#d8d1a2" stroke-width="1.0" stroke-dasharray="0 3.3" stroke-linecap="round" opacity="0.9"/>
<polyline points="943.6,408.5 954.8,373.4" fill="none" stroke="#d8d1a2" stroke-width="1.1" stroke-dasharray="0 2.6" stroke-linecap="round" opacity="1"/>
<polyline points="955.1,411.4 954.8,373.4" fill="none" stroke="#d8d1a2" stroke-width="1.1" stroke-dasharray="0 2.6" stroke-linecap="round" opacity="1"/>
<polyline points="965.7,402.8 954.8,373.4" fill="none" stroke="#d8d1a2" stroke-width="1.1" stroke-dasharray="0 2.6" stroke-linecap="round" opacity="1"/>
<circle cx="954.8" cy="375.9" r="1.8" fill="#d8d1a2"/>
<polygon points="1031.7,409.0 1044.3,411.9 1041.7,374.1" fill="#8f9284" stroke="#8f9284" stroke-width="0.4" stroke-linejoin="round" />
<polygon points="1044.3,411.9 1051.5,403.3 1041.7,374.1" fill="#86897b" stroke="#86897b" stroke-width="0.4" stroke-linejoin="round" />
<polyline points="1031.7,409.0 1044.3,411.9 1051.5,403.3" fill="none" stroke="#d8d1a2" stroke-width="1.0" stroke-dasharray="0 3.3" stroke-linecap="round" opacity="0.9"/>
<polyline points="1032.9,404.8 1044.0,407.3 1050.3,399.7" fill="none" stroke="#d8d1a2" stroke-width="1.0" stroke-dasharray="0 3.3" stroke-linecap="round" opacity="0.9"/>
<polyline points="1034.1,400.6 1043.7,402.7 1049.2,396.2" fill="none" stroke="#d8d1a2" stroke-width="1.0" stroke-dasharray="0 3.3" stroke-linecap="round" opacity="0.9"/>
<polyline points="1035.3,396.3 1043.4,398.1 1048.0,392.6" fill="none" stroke="#d8d1a2" stroke-width="1.0" stroke-dasharray="0 3.3" stroke-linecap="round" opacity="0.9"/>
<polyline points="1036.6,392.1 1043.0,393.6 1046.8,389.1" fill="none" stroke="#d8d1a2" stroke-width="1.0" stroke-dasharray="0 3.3" stroke-linecap="round" opacity="0.9"/>
<polyline points="1037.8,387.8 1042.7,389.0 1045.6,385.6" fill="none" stroke="#d8d1a2" stroke-width="1.0" stroke-dasharray="0 3.3" stroke-linecap="round" opacity="0.9"/>
<polyline points="1039.0,383.6 1042.4,384.4 1044.4,382.0" fill="none" stroke="#d8d1a2" stroke-width="1.0" stroke-dasharray="0 3.3" stroke-linecap="round" opacity="0.9"/>
<polyline points="1040.2,379.3 1042.1,379.8 1043.2,378.5" fill="none" stroke="#d8d1a2" stroke-width="1.0" stroke-dasharray="0 3.3" stroke-linecap="round" opacity="0.9"/>
<polyline points="1031.7,409.0 1041.7,374.1" fill="none" stroke="#d8d1a2" stroke-width="1.1" stroke-dasharray="0 2.6" stroke-linecap="round" opacity="1"/>
<polyline points="1044.3,411.9 1041.7,374.1" fill="none" stroke="#d8d1a2" stroke-width="1.1" stroke-dasharray="0 2.6" stroke-linecap="round" opacity="1"/>
<polyline points="1051.5,403.3 1041.7,374.1" fill="none" stroke="#d8d1a2" stroke-width="1.1" stroke-dasharray="0 2.6" stroke-linecap="round" opacity="1"/>
<circle cx="1041.7" cy="376.6" r="1.8" fill="#d8d1a2"/>
<polygon points="887.8,416.7 899.0,419.8 900.2,380.6" fill="#8f9284" stroke="#8f9284" stroke-width="0.4" stroke-linejoin="round" />
<polygon points="899.0,419.8 912.2,410.5 900.2,380.6" fill="#86897b" stroke="#86897b" stroke-width="0.4" stroke-linejoin="round" />
<polyline points="887.8,416.7 899.0,419.8 912.2,410.5" fill="none" stroke="#d8d1a2" stroke-width="1.0" stroke-dasharray="0 3.3" stroke-linecap="round" opacity="0.9"/>
<polyline points="889.3,412.3 899.1,415.0 910.7,406.9" fill="none" stroke="#d8d1a2" stroke-width="1.0" stroke-dasharray="0 3.3" stroke-linecap="round" opacity="0.9"/>
<polyline points="890.8,407.9 899.2,410.3 909.2,403.3" fill="none" stroke="#d8d1a2" stroke-width="1.0" stroke-dasharray="0 3.3" stroke-linecap="round" opacity="0.9"/>
<polyline points="892.3,403.5 899.4,405.5 907.8,399.6" fill="none" stroke="#d8d1a2" stroke-width="1.0" stroke-dasharray="0 3.3" stroke-linecap="round" opacity="0.9"/>
<polyline points="893.8,399.2 899.5,400.8 906.3,396.0" fill="none" stroke="#d8d1a2" stroke-width="1.0" stroke-dasharray="0 3.3" stroke-linecap="round" opacity="0.9"/>
<polyline points="895.3,394.8 899.7,396.0 904.9,392.3" fill="none" stroke="#d8d1a2" stroke-width="1.0" stroke-dasharray="0 3.3" stroke-linecap="round" opacity="0.9"/>
<polyline points="896.8,390.4 899.8,391.2 903.4,388.7" fill="none" stroke="#d8d1a2" stroke-width="1.0" stroke-dasharray="0 3.3" stroke-linecap="round" opacity="0.9"/>
<polyline points="898.3,386.0 900.0,386.5 902.0,385.1" fill="none" stroke="#d8d1a2" stroke-width="1.0" stroke-dasharray="0 3.3" stroke-linecap="round" opacity="0.9"/>
<polyline points="887.8,416.7 900.2,380.6" fill="none" stroke="#d8d1a2" stroke-width="1.1" stroke-dasharray="0 2.6" stroke-linecap="round" opacity="1"/>
<polyline points="899.0,419.8 900.2,380.6" fill="none" stroke="#d8d1a2" stroke-width="1.1" stroke-dasharray="0 2.6" stroke-linecap="round" opacity="1"/>
<polyline points="912.2,410.5 900.2,380.6" fill="none" stroke="#d8d1a2" stroke-width="1.1" stroke-dasharray="0 2.6" stroke-linecap="round" opacity="1"/>
<circle cx="900.2" cy="383.1" r="1.8" fill="#d8d1a2"/>
<polygon points="978.2,417.3 990.5,420.4 989.3,381.4" fill="#8f9284" stroke="#8f9284" stroke-width="0.4" stroke-linejoin="round" />
<polygon points="990.5,420.4 1000.2,411.1 989.3,381.4" fill="#86897b" stroke="#86897b" stroke-width="0.4" stroke-linejoin="round" />
<polyline points="978.2,417.3 990.5,420.4 1000.2,411.1" fill="none" stroke="#d8d1a2" stroke-width="1.0" stroke-dasharray="0 3.3" stroke-linecap="round" opacity="0.9"/>
<polyline points="979.5,412.9 990.4,415.7 998.9,407.5" fill="none" stroke="#d8d1a2" stroke-width="1.0" stroke-dasharray="0 3.3" stroke-linecap="round" opacity="0.9"/>
<polyline points="980.9,408.6 990.2,410.9 997.5,403.9" fill="none" stroke="#d8d1a2" stroke-width="1.0" stroke-dasharray="0 3.3" stroke-linecap="round" opacity="0.9"/>
<polyline points="982.2,404.2 990.1,406.2 996.2,400.3" fill="none" stroke="#d8d1a2" stroke-width="1.0" stroke-dasharray="0 3.3" stroke-linecap="round" opacity="0.9"/>
<polyline points="983.6,399.9 989.9,401.5 994.9,396.7" fill="none" stroke="#d8d1a2" stroke-width="1.0" stroke-dasharray="0 3.3" stroke-linecap="round" opacity="0.9"/>
<polyline points="984.9,395.5 989.8,396.7 993.6,393.1" fill="none" stroke="#d8d1a2" stroke-width="1.0" stroke-dasharray="0 3.3" stroke-linecap="round" opacity="0.9"/>
<polyline points="986.3,391.1 989.7,392.0 992.3,389.5" fill="none" stroke="#d8d1a2" stroke-width="1.0" stroke-dasharray="0 3.3" stroke-linecap="round" opacity="0.9"/>
<polyline points="987.6,386.8 989.5,387.3 990.9,385.9" fill="none" stroke="#d8d1a2" stroke-width="1.0" stroke-dasharray="0 3.3" stroke-linecap="round" opacity="0.9"/>
<polyline points="978.2,417.3 989.3,381.4" fill="none" stroke="#d8d1a2" stroke-width="1.1" stroke-dasharray="0 2.6" stroke-linecap="round" opacity="1"/>
<polyline points="990.5,420.4 989.3,381.4" fill="none" stroke="#d8d1a2" stroke-width="1.1" stroke-dasharray="0 2.6" stroke-linecap="round" opacity="1"/>
<polyline points="1000.2,411.1 989.3,381.4" fill="none" stroke="#d8d1a2" stroke-width="1.1" stroke-dasharray="0 2.6" stroke-linecap="round" opacity="1"/>
<circle cx="989.3" cy="383.9" r="1.8" fill="#d8d1a2"/>
<polygon points="1069.8,417.9 1083.5,421.0 1079.8,382.2" fill="#8f9284" stroke="#8f9284" stroke-width="0.4" stroke-linejoin="round" />
<polygon points="1083.5,421.0 1089.5,411.7 1079.8,382.2" fill="#86897b" stroke="#86897b" stroke-width="0.4" stroke-linejoin="round" />
<polyline points="1069.8,417.9 1083.5,421.0 1089.5,411.7" fill="none" stroke="#d8d1a2" stroke-width="1.0" stroke-dasharray="0 3.3" stroke-linecap="round" opacity="0.9"/>
<polyline points="1071.1,413.6 1083.0,416.3 1088.3,408.1" fill="none" stroke="#d8d1a2" stroke-width="1.0" stroke-dasharray="0 3.3" stroke-linecap="round" opacity="0.9"/>
<polyline points="1072.3,409.2 1082.6,411.6 1087.1,404.5" fill="none" stroke="#d8d1a2" stroke-width="1.0" stroke-dasharray="0 3.3" stroke-linecap="round" opacity="0.9"/>
<polyline points="1073.5,404.9 1082.1,406.9 1085.9,400.9" fill="none" stroke="#d8d1a2" stroke-width="1.0" stroke-dasharray="0 3.3" stroke-linecap="round" opacity="0.9"/>
<polyline points="1074.7,400.6 1081.7,402.2 1084.8,397.4" fill="none" stroke="#d8d1a2" stroke-width="1.0" stroke-dasharray="0 3.3" stroke-linecap="round" opacity="0.9"/>
<polyline points="1075.9,396.2 1081.2,397.5 1083.6,393.8" fill="none" stroke="#d8d1a2" stroke-width="1.0" stroke-dasharray="0 3.3" stroke-linecap="round" opacity="0.9"/>
<polyline points="1077.1,391.9 1080.8,392.8 1082.4,390.2" fill="none" stroke="#d8d1a2" stroke-width="1.0" stroke-dasharray="0 3.3" stroke-linecap="round" opacity="0.9"/>
<polyline points="1078.3,387.6 1080.3,388.0 1081.2,386.6" fill="none" stroke="#d8d1a2" stroke-width="1.0" stroke-dasharray="0 3.3" stroke-linecap="round" opacity="0.9"/>
<polyline points="1069.8,417.9 1079.8,382.2" fill="none" stroke="#d8d1a2" stroke-width="1.1" stroke-dasharray="0 2.6" stroke-linecap="round" opacity="1"/>
<polyline points="1083.5,421.0 1079.8,382.2" fill="none" stroke="#d8d1a2" stroke-width="1.1" stroke-dasharray="0 2.6" stroke-linecap="round" opacity="1"/>
<polyline points="1089.5,411.7 1079.8,382.2" fill="none" stroke="#d8d1a2" stroke-width="1.1" stroke-dasharray="0 2.6" stroke-linecap="round" opacity="1"/>
<circle cx="1079.8" cy="384.7" r="1.8" fill="#d8d1a2"/>
<polygon points="921.3,426.0 933.3,429.4 933.6,389.2" fill="#8f9284" stroke="#8f9284" stroke-width="0.4" stroke-linejoin="round" />
<polygon points="933.3,429.4 945.6,419.4 933.6,389.2" fill="#86897b" stroke="#86897b" stroke-width="0.4" stroke-linejoin="round" />
<polyline points="921.3,426.0 933.3,429.4 945.6,419.4" fill="none" stroke="#d8d1a2" stroke-width="1.0" stroke-dasharray="0 3.3" stroke-linecap="round" opacity="0.9"/>
<polyline points="922.8,421.6 933.3,424.5 944.2,415.7" fill="none" stroke="#d8d1a2" stroke-width="1.0" stroke-dasharray="0 3.3" stroke-linecap="round" opacity="0.9"/>
<polyline points="924.3,417.1 933.4,419.6 942.7,412.0" fill="none" stroke="#d8d1a2" stroke-width="1.0" stroke-dasharray="0 3.3" stroke-linecap="round" opacity="0.9"/>
<polyline points="925.8,412.6 933.4,414.7 941.3,408.4" fill="none" stroke="#d8d1a2" stroke-width="1.0" stroke-dasharray="0 3.3" stroke-linecap="round" opacity="0.9"/>
<polyline points="927.3,408.1 933.5,409.8 939.8,404.7" fill="none" stroke="#d8d1a2" stroke-width="1.0" stroke-dasharray="0 3.3" stroke-linecap="round" opacity="0.9"/>
<polyline points="928.8,403.6 933.5,405.0 938.3,401.0" fill="none" stroke="#d8d1a2" stroke-width="1.0" stroke-dasharray="0 3.3" stroke-linecap="round" opacity="0.9"/>
<polyline points="930.3,399.2 933.5,400.1 936.9,397.4" fill="none" stroke="#d8d1a2" stroke-width="1.0" stroke-dasharray="0 3.3" stroke-linecap="round" opacity="0.9"/>
<polyline points="931.8,394.7 933.6,395.2 935.4,393.7" fill="none" stroke="#d8d1a2" stroke-width="1.0" stroke-dasharray="0 3.3" stroke-linecap="round" opacity="0.9"/>
<polyline points="921.3,426.0 933.6,389.2" fill="none" stroke="#d8d1a2" stroke-width="1.1" stroke-dasharray="0 2.6" stroke-linecap="round" opacity="1"/>
<polyline points="933.3,429.4 933.6,389.2" fill="none" stroke="#d8d1a2" stroke-width="1.1" stroke-dasharray="0 2.6" stroke-linecap="round" opacity="1"/>
<polyline points="945.6,419.4 933.6,389.2" fill="none" stroke="#d8d1a2" stroke-width="1.1" stroke-dasharray="0 2.6" stroke-linecap="round" opacity="1"/>
<circle cx="933.6" cy="391.7" r="1.8" fill="#d8d1a2"/>
<polygon points="1015.4,426.7 1028.9,430.1 1026.5,390.1" fill="#8f9284" stroke="#8f9284" stroke-width="0.4" stroke-linejoin="round" />
<polygon points="1028.9,430.1 1037.3,420.0 1026.5,390.1" fill="#86897b" stroke="#86897b" stroke-width="0.4" stroke-linejoin="round" />
<polyline points="1015.4,426.7 1028.9,430.1 1037.3,420.0" fill="none" stroke="#d8d1a2" stroke-width="1.0" stroke-dasharray="0 3.3" stroke-linecap="round" opacity="0.9"/>
<polyline points="1016.8,422.3 1028.6,425.2 1036.0,416.4" fill="none" stroke="#d8d1a2" stroke-width="1.0" stroke-dasharray="0 3.3" stroke-linecap="round" opacity="0.9"/>
<polyline points="1018.1,417.8 1028.3,420.4 1034.7,412.7" fill="none" stroke="#d8d1a2" stroke-width="1.0" stroke-dasharray="0 3.3" stroke-linecap="round" opacity="0.9"/>
<polyline points="1019.5,413.4 1028.0,415.5 1033.4,409.1" fill="none" stroke="#d8d1a2" stroke-width="1.0" stroke-dasharray="0 3.3" stroke-linecap="round" opacity="0.9"/>
<polyline points="1020.8,408.9 1027.7,410.6 1032.1,405.5" fill="none" stroke="#d8d1a2" stroke-width="1.0" stroke-dasharray="0 3.3" stroke-linecap="round" opacity="0.9"/>
<polyline points="1022.2,404.5 1027.4,405.8 1030.7,401.8" fill="none" stroke="#d8d1a2" stroke-width="1.0" stroke-dasharray="0 3.3" stroke-linecap="round" opacity="0.9"/>
<polyline points="1023.5,400.0 1027.2,400.9 1029.4,398.2" fill="none" stroke="#d8d1a2" stroke-width="1.0" stroke-dasharray="0 3.3" stroke-linecap="round" opacity="0.9"/>
<polyline points="1024.9,395.6 1026.9,396.1 1028.1,394.6" fill="none" stroke="#d8d1a2" stroke-width="1.0" stroke-dasharray="0 3.3" stroke-linecap="round" opacity="0.9"/>
<polyline points="1015.4,426.7 1026.5,390.1" fill="none" stroke="#d8d1a2" stroke-width="1.1" stroke-dasharray="0 2.6" stroke-linecap="round" opacity="1"/>
<polyline points="1028.9,430.1 1026.5,390.1" fill="none" stroke="#d8d1a2" stroke-width="1.1" stroke-dasharray="0 2.6" stroke-linecap="round" opacity="1"/>
<polyline points="1037.3,420.0 1026.5,390.1" fill="none" stroke="#d8d1a2" stroke-width="1.1" stroke-dasharray="0 2.6" stroke-linecap="round" opacity="1"/>
<circle cx="1026.5" cy="392.6" r="1.8" fill="#d8d1a2"/>
<polygon points="957.4,436.1 970.5,439.7 969.8,398.4" fill="#8f9284" stroke="#8f9284" stroke-width="0.4" stroke-linejoin="round" />
<polygon points="970.5,439.7 981.8,428.9 969.8,398.4" fill="#86897b" stroke="#86897b" stroke-width="0.4" stroke-linejoin="round" />
<polyline points="957.4,436.1 970.5,439.7 981.8,428.9" fill="none" stroke="#d8d1a2" stroke-width="1.0" stroke-dasharray="0 3.3" stroke-linecap="round" opacity="0.9"/>
<polyline points="958.9,431.5 970.4,434.7 980.3,425.2" fill="none" stroke="#d8d1a2" stroke-width="1.0" stroke-dasharray="0 3.3" stroke-linecap="round" opacity="0.9"/>
<polyline points="960.4,426.9 970.3,429.7 978.8,421.5" fill="none" stroke="#d8d1a2" stroke-width="1.0" stroke-dasharray="0 3.3" stroke-linecap="round" opacity="0.9"/>
<polyline points="961.9,422.4 970.3,424.7 977.4,417.8" fill="none" stroke="#d8d1a2" stroke-width="1.0" stroke-dasharray="0 3.3" stroke-linecap="round" opacity="0.9"/>
<polyline points="963.4,417.8 970.2,419.7 975.9,414.1" fill="none" stroke="#d8d1a2" stroke-width="1.0" stroke-dasharray="0 3.3" stroke-linecap="round" opacity="0.9"/>
<polyline points="964.9,413.2 970.1,414.6 974.5,410.4" fill="none" stroke="#d8d1a2" stroke-width="1.0" stroke-dasharray="0 3.3" stroke-linecap="round" opacity="0.9"/>
<polyline points="966.4,408.6 970.0,409.6 973.0,406.7" fill="none" stroke="#d8d1a2" stroke-width="1.0" stroke-dasharray="0 3.3" stroke-linecap="round" opacity="0.9"/>
<polyline points="967.9,404.1 969.9,404.6 971.6,403.0" fill="none" stroke="#d8d1a2" stroke-width="1.0" stroke-dasharray="0 3.3" stroke-linecap="round" opacity="0.9"/>
<polyline points="957.4,436.1 969.8,398.4" fill="none" stroke="#d8d1a2" stroke-width="1.1" stroke-dasharray="0 2.6" stroke-linecap="round" opacity="1"/>
<polyline points="970.5,439.7 969.8,398.4" fill="none" stroke="#d8d1a2" stroke-width="1.1" stroke-dasharray="0 2.6" stroke-linecap="round" opacity="1"/>
<polyline points="981.8,428.9 969.8,398.4" fill="none" stroke="#d8d1a2" stroke-width="1.1" stroke-dasharray="0 2.6" stroke-linecap="round" opacity="1"/>
<circle cx="969.8" cy="400.9" r="1.8" fill="#d8d1a2"/>
<polygon points="1055.8,436.9 1070.4,440.5 1066.8,399.4" fill="#8f9284" stroke="#8f9284" stroke-width="0.4" stroke-linejoin="round" />
<polygon points="1070.4,440.5 1077.4,429.6 1066.8,399.4" fill="#86897b" stroke="#86897b" stroke-width="0.4" stroke-linejoin="round" />
<polyline points="1055.8,436.9 1070.4,440.5 1077.4,429.6" fill="none" stroke="#d8d1a2" stroke-width="1.0" stroke-dasharray="0 3.3" stroke-linecap="round" opacity="0.9"/>
<polyline points="1057.1,432.3 1069.9,435.6 1076.1,425.9" fill="none" stroke="#d8d1a2" stroke-width="1.0" stroke-dasharray="0 3.3" stroke-linecap="round" opacity="0.9"/>
<polyline points="1058.5,427.8 1069.5,430.6 1074.8,422.3" fill="none" stroke="#d8d1a2" stroke-width="1.0" stroke-dasharray="0 3.3" stroke-linecap="round" opacity="0.9"/>
<polyline points="1059.8,423.2 1069.1,425.6 1073.5,418.6" fill="none" stroke="#d8d1a2" stroke-width="1.0" stroke-dasharray="0 3.3" stroke-linecap="round" opacity="0.9"/>
<polyline points="1061.1,418.7 1068.6,420.6 1072.2,415.0" fill="none" stroke="#d8d1a2" stroke-width="1.0" stroke-dasharray="0 3.3" stroke-linecap="round" opacity="0.9"/>
<polyline points="1062.5,414.2 1068.2,415.6 1070.9,411.3" fill="none" stroke="#d8d1a2" stroke-width="1.0" stroke-dasharray="0 3.3" stroke-linecap="round" opacity="0.9"/>
<polyline points="1063.8,409.6 1067.7,410.6 1069.6,407.6" fill="none" stroke="#d8d1a2" stroke-width="1.0" stroke-dasharray="0 3.3" stroke-linecap="round" opacity="0.9"/>
<polyline points="1065.1,405.1 1067.3,405.6 1068.3,404.0" fill="none" stroke="#d8d1a2" stroke-width="1.0" stroke-dasharray="0 3.3" stroke-linecap="round" opacity="0.9"/>
<polyline points="1055.8,436.9 1066.8,399.4" fill="none" stroke="#d8d1a2" stroke-width="1.1" stroke-dasharray="0 2.6" stroke-linecap="round" opacity="1"/>
<polyline points="1070.4,440.5 1066.8,399.4" fill="none" stroke="#d8d1a2" stroke-width="1.1" stroke-dasharray="0 2.6" stroke-linecap="round" opacity="1"/>
<polyline points="1077.4,429.6 1066.8,399.4" fill="none" stroke="#d8d1a2" stroke-width="1.1" stroke-dasharray="0 2.6" stroke-linecap="round" opacity="1"/>
<circle cx="1066.8" cy="401.9" r="1.8" fill="#d8d1a2"/>
<polygon points="996.7,447.0 1011.0,450.9 1009.0,408.5" fill="#8f9284" stroke="#8f9284" stroke-width="0.4" stroke-linejoin="round" />
<polygon points="1011.0,450.9 1020.9,439.1 1009.0,408.5" fill="#86897b" stroke="#86897b" stroke-width="0.4" stroke-linejoin="round" />
<polyline points="996.7,447.0 1011.0,450.9 1020.9,439.1" fill="none" stroke="#d8d1a2" stroke-width="1.0" stroke-dasharray="0 3.3" stroke-linecap="round" opacity="0.9"/>
<polyline points="998.2,442.3 1010.7,445.8 1019.4,435.4" fill="none" stroke="#d8d1a2" stroke-width="1.0" stroke-dasharray="0 3.3" stroke-linecap="round" opacity="0.9"/>
<polyline points="999.7,437.6 1010.5,440.6 1018.0,431.7" fill="none" stroke="#d8d1a2" stroke-width="1.0" stroke-dasharray="0 3.3" stroke-linecap="round" opacity="0.9"/>
<polyline points="1001.2,432.9 1010.3,435.4 1016.6,427.9" fill="none" stroke="#d8d1a2" stroke-width="1.0" stroke-dasharray="0 3.3" stroke-linecap="round" opacity="0.9"/>
<polyline points="1002.7,428.3 1010.0,430.3 1015.1,424.2" fill="none" stroke="#d8d1a2" stroke-width="1.0" stroke-dasharray="0 3.3" stroke-linecap="round" opacity="0.9"/>
<polyline points="1004.2,423.6 1009.8,425.1 1013.7,420.5" fill="none" stroke="#d8d1a2" stroke-width="1.0" stroke-dasharray="0 3.3" stroke-linecap="round" opacity="0.9"/>
<polyline points="1005.7,418.9 1009.5,420.0 1012.2,416.8" fill="none" stroke="#d8d1a2" stroke-width="1.0" stroke-dasharray="0 3.3" stroke-linecap="round" opacity="0.9"/>
<polyline points="1007.1,414.2 1009.3,414.8 1010.8,413.1" fill="none" stroke="#d8d1a2" stroke-width="1.0" stroke-dasharray="0 3.3" stroke-linecap="round" opacity="0.9"/>
<polyline points="996.7,447.0 1009.0,408.5" fill="none" stroke="#d8d1a2" stroke-width="1.1" stroke-dasharray="0 2.6" stroke-linecap="round" opacity="1"/>
<polyline points="1011.0,450.9 1009.0,408.5" fill="none" stroke="#d8d1a2" stroke-width="1.1" stroke-dasharray="0 2.6" stroke-linecap="round" opacity="1"/>
<polyline points="1020.9,439.1 1009.0,408.5" fill="none" stroke="#d8d1a2" stroke-width="1.1" stroke-dasharray="0 2.6" stroke-linecap="round" opacity="1"/>
<circle cx="1009.0" cy="411.0" r="1.8" fill="#d8d1a2"/>
<polygon points="1039.5,458.7 1055.1,463.1 1051.7,419.4" fill="#8f9284" stroke="#8f9284" stroke-width="0.4" stroke-linejoin="round" />
<polygon points="1055.1,463.1 1063.4,450.2 1051.7,419.4" fill="#86897b" stroke="#86897b" stroke-width="0.4" stroke-linejoin="round" />
<polyline points="1039.5,458.7 1055.1,463.1 1063.4,450.2" fill="none" stroke="#d8d1a2" stroke-width="1.0" stroke-dasharray="0 3.3" stroke-linecap="round" opacity="0.9"/>
<polyline points="1041.0,454.0 1054.7,457.8 1062.0,446.4" fill="none" stroke="#d8d1a2" stroke-width="1.0" stroke-dasharray="0 3.3" stroke-linecap="round" opacity="0.9"/>
<polyline points="1042.5,449.2 1054.3,452.5 1060.6,442.7" fill="none" stroke="#d8d1a2" stroke-width="1.0" stroke-dasharray="0 3.3" stroke-linecap="round" opacity="0.9"/>
<polyline points="1043.9,444.4 1053.9,447.2 1059.1,439.0" fill="none" stroke="#d8d1a2" stroke-width="1.0" stroke-dasharray="0 3.3" stroke-linecap="round" opacity="0.9"/>
<polyline points="1045.4,439.6 1053.4,441.9 1057.7,435.2" fill="none" stroke="#d8d1a2" stroke-width="1.0" stroke-dasharray="0 3.3" stroke-linecap="round" opacity="0.9"/>
<polyline points="1046.9,434.9 1053.0,436.6 1056.3,431.5" fill="none" stroke="#d8d1a2" stroke-width="1.0" stroke-dasharray="0 3.3" stroke-linecap="round" opacity="0.9"/>
<polyline points="1048.4,430.1 1052.6,431.2 1054.8,427.7" fill="none" stroke="#d8d1a2" stroke-width="1.0" stroke-dasharray="0 3.3" stroke-linecap="round" opacity="0.9"/>
<polyline points="1049.8,425.3 1052.2,425.9 1053.4,424.0" fill="none" stroke="#d8d1a2" stroke-width="1.0" stroke-dasharray="0 3.3" stroke-linecap="round" opacity="0.9"/>
<polyline points="1039.5,458.7 1051.7,419.4" fill="none" stroke="#d8d1a2" stroke-width="1.1" stroke-dasharray="0 2.6" stroke-linecap="round" opacity="1"/>
<polyline points="1055.1,463.1 1051.7,419.4" fill="none" stroke="#d8d1a2" stroke-width="1.1" stroke-dasharray="0 2.6" stroke-linecap="round" opacity="1"/>
<polyline points="1063.4,450.2 1051.7,419.4" fill="none" stroke="#d8d1a2" stroke-width="1.1" stroke-dasharray="0 2.6" stroke-linecap="round" opacity="1"/>
<circle cx="1051.7" cy="421.9" r="1.8" fill="#d8d1a2"/>
<polygon points="338.2,406.8 536.9,461.6 536.9,471.0 339.0,413.5" fill="#d5d6cb" stroke="#d5d6cb"  stroke-linejoin="round" stroke-width="1"/>
<polygon points="536.9,461.6 587.5,376.0 587.0,381.5 536.9,471.0" fill="#dfe0d5" stroke="#dfe0d5"  stroke-linejoin="round" stroke-width="1"/>
<polygon points="338.5,399.8 536.9,450.2 536.9,461.6 338.2,406.8" fill="#909285" stroke="#909285"  stroke-linejoin="round" stroke-width="1"/>
<polygon points="536.9,450.2 587.9,371.8 587.5,376.0 536.9,461.6" fill="#8c8e81" stroke="#8c8e81"  stroke-linejoin="round" stroke-width="1"/>
<polygon points="338.5,399.8 536.9,450.2 587.9,371.8 432.0,347.0" fill="#838578" stroke="#838578"  stroke-linejoin="round" stroke-width="1"/>
<g filter="url(#fur)">
<path d="M467.0,379.8v-5.9M465.3,383.3v-4.7M420.4,374.2v-4.9M495.4,428.4v-4.3M430.5,357.0v-4.4M436.3,348.6v-4.7M505.7,383.1v-2.9M396.8,368.5v-2.6M396.0,390.5v-2.8M459.7,387.5v-5.9M483.9,377.2v-4.1M496.7,393.5v-3.6M587.3,372.0v-4.3M495.1,405.6v-3.6M394.3,406.5v-6.6M478.5,363.0v-3.3M574.2,379.2v-2.0M454.4,355.4v-3.4M557.4,411.1v-2.8M511.4,372.9v-3.0M389.0,381.4v-6.8M489.8,424.4v-4.0M361.7,399.5v-6.8M423.3,371.5v-4.1M438.9,363.1v-2.6M465.8,418.8v-4.9M402.5,389.5v-7.0M513.7,410.7v-6.5M414.0,381.8v-6.1M463.9,420.1v-7.6M401.4,390.3v-6.2M424.2,392.0v-3.0M412.4,367.8v-3.2M479.0,397.1v-4.5M557.4,403.4v-4.7M518.6,424.0v-3.5M563.5,379.3v-2.9M439.4,362.7v-5.4M455.2,353.3v-4.6M483.2,393.8v-2.9M434.5,349.3v-2.6M490.0,410.0v-6.4M471.8,402.6v-3.4M477.4,426.9v-4.0M504.1,367.0v-4.0M465.1,356.7v-2.5M371.9,382.9v-4.7M368.6,390.1v-4.5M452.9,414.2v-4.6M567.2,369.7v-3.8M510.5,386.3v-2.8M346.2,399.9v-7.5M533.5,365.3v-1.9M493.6,390.9v-5.4M475.9,354.0v-2.0M494.8,372.7v-5.3M526.0,380.5v-5.0M540.5,411.9v-5.5M564.4,376.0v-3.3M544.0,373.0v-3.8M484.2,397.3v-5.0M455.3,420.3v-6.0M582.2,378.4v-4.3M469.2,368.3v-4.2M484.2,364.5v-2.3M480.4,432.2v-5.9M444.8,402.5v-5.9M478.5,378.0v-5.7M381.9,409.6v-4.5M480.3,413.2v-3.5M555.5,389.0v-3.8M534.0,412.8v-5.5M415.4,379.2v-5.8M567.3,375.9v-3.2M471.2,400.3v-3.2M493.0,366.0v-4.8M534.6,366.2v-2.7M412.6,377.2v-3.6M416.3,380.7v-5.1M454.7,396.9v-6.3M560.7,406.8v-2.8M427.1,352.9v-2.1M512.9,387.8v-3.5M488.6,435.6v-3.7M419.5,417.6v-7.1M393.2,399.2v-3.1M489.7,393.0v-5.1M517.5,372.1v-5.3M481.3,413.8v-4.9M368.6,406.3v-5.3M485.7,416.8v-4.0M459.8,369.0v-4.0M507.5,373.7v-3.5M546.3,370.8v-2.2M563.8,385.9v-2.6M472.0,376.1v-5.7M455.2,376.9v-5.7M549.0,368.9v-3.3M475.1,411.8v-6.1M537.7,387.1v-4.9M454.2,355.9v-5.1M564.0,400.2v-5.5M470.5,358.0v-4.6M406.2,408.1v-5.0M497.5,371.1v-3.8M421.9,355.5v-2.2M503.3,421.6v-4.4M498.1,423.9v-3.5M489.1,372.5v-5.1M530.7,365.8v-3.4M530.6,437.9v-4.0M458.5,400.0v-5.9M496.9,388.4v-5.7M466.5,399.8v-4.3M555.6,372.6v-2.6M559.6,369.2v-3.4M459.4,408.6v-5.2M478.8,378.8v-2.4M561.3,401.5v-4.0M529.9,391.6v-4.2M470.9,425.7v-5.5M487.4,358.2v-4.7M430.2,379.0v-2.9M481.7,365.4v-5.1M451.7,396.1v-3.5M517.7,364.9v-2.3M486.2,434.5v-3.9M441.0,366.3v-3.3M455.6,373.4v-2.7M484.4,422.6v-5.3M401.4,395.7v-5.2M449.7,390.7v-4.3M447.3,409.9v-3.8M503.2,380.9v-4.2M542.4,390.2v-5.5M445.8,363.8v-5.0M535.6,414.2v-4.0M533.7,423.7v-7.3M519.8,429.7v-4.0M494.6,410.8v-3.1M527.5,402.8v-5.8M401.7,378.5v-5.4M364.8,387.1v-5.9M570.4,370.9v-2.2M489.5,370.4v-3.8M480.7,414.7v-3.1M359.9,401.3v-5.7M478.2,381.3v-2.9M391.2,392.8v-6.6M583.4,375.6v-2.2M436.8,350.3v-3.3M507.4,407.2v-4.6M467.9,389.9v-5.0M411.3,360.0v-5.2M414.8,377.4v-5.5M427.8,402.0v-3.5M429.7,421.2v-7.4M538.0,382.6v-5.2M486.7,395.9v-5.0M502.8,359.2v-4.3M461.5,356.5v-4.3M539.4,375.4v-3.4M564.0,375.3v-4.2M534.9,377.9v-3.5M478.1,426.9v-4.6M420.7,419.5v-4.8M503.6,382.0v-3.1M563.6,390.0v-3.4M503.8,386.1v-4.4M486.3,355.6v-3.7M522.9,376.0v-5.5M405.5,364.4v-5.0M421.9,382.8v-2.7M409.9,382.4v-3.0M460.0,356.5v-3.7M502.4,360.0v-3.6M572.5,393.8v-5.2M411.6,366.7v-5.2M433.1,350.8v-2.4M437.4,406.7v-5.1M453.7,422.3v-7.5M459.2,380.7v-4.7M429.4,394.0v-5.6M464.2,401.8v-5.8M389.2,411.2v-4.2M363.7,390.8v-6.3M480.1,360.3v-4.3M437.8,348.5v-4.7M435.1,352.4v-3.3M498.1,359.0v-2.6M503.2,361.8v-4.1M497.0,358.5v-4.3M457.6,417.0v-5.8M437.7,403.4v-3.0M443.7,412.7v-5.0M497.6,393.9v-3.5M479.1,393.1v-5.7M507.7,359.2v-4.7M494.6,412.8v-3.2M559.0,380.8v-4.2M427.0,394.8v-5.7M488.5,381.6v-4.7M494.7,417.8v-3.9M581.0,375.9v-4.7M352.1,397.1v-4.2M467.1,375.3v-2.6M441.2,417.7v-3.3M505.6,387.9v-4.8M447.5,382.0v-3.3M462.9,366.5v-5.0M364.4,394.4v-6.7M509.9,373.3v-2.8M437.1,398.2v-6.3M460.3,372.0v-5.9M445.3,376.5v-5.3M546.3,406.1v-4.0M436.2,354.3v-2.2M409.7,368.5v-4.2M489.4,405.9v-6.1M375.0,388.3v-5.8M385.3,382.9v-5.8M489.9,407.5v-3.3M463.7,367.9v-3.4M426.6,362.3v-4.2M570.6,372.7v-4.7M481.5,366.2v-3.1M431.6,385.0v-6.4M529.5,419.6v-4.3M436.4,388.9v-4.3M424.6,401.3v-5.4M527.8,393.0v-5.6M455.2,410.1v-6.3M528.7,416.1v-2.8M476.6,382.8v-4.6M567.2,391.8v-5.2M405.5,368.9v-5.4M361.6,397.3v-6.5M518.7,435.1v-6.0M433.2,361.2v-4.4M402.9,394.0v-6.2M492.5,370.5v-3.5M476.7,355.8v-3.9M472.3,382.5v-5.2M532.3,367.9v-3.2M540.5,385.8v-5.3M545.3,375.1v-5.0M565.0,392.2v-4.2M526.7,374.0v-3.5M425.7,406.3v-6.3M558.6,413.4v-3.3M415.8,379.7v-3.7M533.7,441.9v-4.4M421.3,365.2v-5.1M374.8,402.5v-5.2M511.3,364.8v-2.0M377.0,391.3v-3.8M444.5,365.0v-4.3M395.7,395.6v-4.1M438.2,361.4v-3.2M500.1,368.5v-3.6M460.2,357.6v-4.9M447.9,377.0v-6.1M444.2,403.2v-3.0M570.2,381.6v-3.3M476.6,384.9v-3.5M572.4,392.3v-3.1M391.1,371.3v-3.9M537.5,381.9v-4.3M381.8,395.0v-4.3M458.8,358.4v-3.6M524.4,362.1v-2.6M447.4,410.9v-6.4M419.2,354.4v-4.9M500.9,431.1v-4.2M479.2,424.1v-5.2M495.7,359.6v-3.7M525.1,413.2v-6.1M485.4,360.1v-2.2M511.7,419.8v-5.2M446.4,410.0v-6.7M422.6,390.4v-3.0M435.5,380.5v-5.3M461.3,369.9v-2.6M449.6,383.7v-6.4M540.5,386.7v-2.3M465.6,369.2v-3.0M478.7,389.9v-2.5M578.7,383.2v-2.7M475.3,403.6v-4.3M461.6,399.9v-4.1M464.9,372.0v-3.1M440.3,363.4v-3.3M558.6,397.1v-5.1M466.7,362.2v-2.3M372.2,398.7v-6.1M484.5,416.5v-4.7M538.6,390.9v-2.6M393.1,397.6v-3.4M415.7,411.4v-7.4M459.1,381.8v-5.0M537.7,374.7v-3.3M435.0,384.7v-2.6M468.7,370.4v-5.7M533.3,384.9v-4.4M378.6,379.3v-4.1M466.3,420.0v-4.7M492.0,368.9v-4.9M463.1,413.8v-6.4M549.2,396.5v-3.7M440.1,410.1v-6.2M565.0,402.2v-5.2M512.8,421.2v-7.1M469.7,411.3v-3.1M434.9,372.5v-5.0M473.0,357.4v-3.0M431.3,409.8v-7.5M443.6,353.9v-3.6M485.6,383.3v-3.4M571.0,369.6v-4.3M457.9,416.3v-6.8M464.9,357.8v-2.7M505.1,368.5v-2.6M442.8,417.6v-3.1M455.4,351.4v-4.7M484.8,404.1v-5.6M505.9,401.9v-5.0M491.2,436.6v-4.0M434.1,408.6v-4.6M456.3,410.6v-5.2M437.2,373.5v-3.6M458.0,425.7v-6.3M448.6,351.8v-3.7M458.4,389.5v-5.1M520.6,375.8v-4.7M500.6,358.2v-4.3M531.4,404.7v-4.3M508.2,364.5v-3.6M469.8,390.2v-6.2M398.2,409.0v-6.5M558.0,384.2v-4.2M503.2,408.3v-5.2M364.3,393.9v-5.0M463.0,391.7v-2.7M507.5,390.1v-3.3M429.4,384.8v-3.5M434.9,352.1v-5.0M522.5,369.2v-3.3M508.2,417.6v-6.1M508.2,364.6v-2.2M497.7,425.6v-5.4M524.7,447.0v-4.2M421.9,389.1v-2.9M560.9,379.0v-3.4M453.2,375.3v-2.5M428.9,351.8v-2.9M499.1,361.4v-4.9M441.1,403.9v-4.1M569.5,375.2v-2.6M524.3,408.2v-4.6M447.0,355.8v-5.2M432.9,368.3v-3.0M511.6,437.5v-3.5M498.5,406.5v-6.6M551.2,384.3v-2.6M531.4,366.4v-3.3M376.5,387.8v-4.1M486.3,415.2v-3.6M440.5,367.6v-5.1M461.5,371.6v-5.5M465.1,407.2v-4.1M560.0,389.3v-3.2M462.6,420.9v-7.6M462.6,381.3v-4.5M407.4,365.7v-3.4M453.0,361.2v-2.3M454.7,364.4v-3.0M438.0,375.1v-3.1M568.6,369.5v-1.9M481.9,369.5v-3.4M552.0,401.0v-3.1M490.5,378.1v-3.6M516.6,373.5v-3.8M494.9,365.9v-4.2M503.5,361.1v-2.4M498.3,421.2v-5.6M422.0,379.8v-5.7M539.7,377.0v-2.9M445.5,403.5v-5.4M429.1,418.8v-5.9M514.1,387.8v-5.7M384.9,396.2v-2.9M464.9,389.0v-4.3M454.4,361.8v-2.3M551.2,395.2v-4.4M506.5,415.5v-3.4M395.1,409.6v-4.5M493.9,387.6v-3.4M452.1,418.6v-6.9M394.3,389.0v-3.4M524.9,371.9v-4.6M392.7,376.1v-4.0M459.4,352.9v-2.0M487.1,369.7v-5.5M409.3,376.2v-5.5M372.3,385.3v-6.7M403.1,379.6v-3.8M419.3,411.9v-3.1M578.1,385.6v-4.6M403.6,391.2v-5.2M424.8,378.8v-6.2M433.8,390.6v-6.8M451.8,424.0v-4.9M461.6,424.2v-4.6M527.4,370.2v-3.9M541.1,402.0v-4.0M527.1,406.3v-5.9M410.4,384.7v-3.4M451.5,410.5v-3.8M421.1,377.6v-3.7M494.6,357.3v-3.9M519.4,421.9v-4.5M418.8,362.0v-3.5M386.0,409.8v-3.9M422.1,383.5v-6.4M493.0,409.6v-4.3M448.3,352.9v-3.0M532.3,380.3v-5.4M377.9,379.9v-4.3M434.8,353.6v-3.0M521.4,393.4v-2.6M429.9,398.4v-2.9M422.3,368.8v-2.4M432.9,383.3v-4.7M429.1,362.9v-3.1M521.8,382.4v-2.7M402.2,388.6v-5.8M445.2,388.8v-6.2M406.8,388.6v-4.2M378.4,405.6v-3.1M498.3,385.3v-5.4M550.7,419.3v-5.6M532.7,423.7v-5.9M527.4,364.7v-4.5M437.9,369.3v-2.6M449.5,389.3v-2.8M436.4,391.9v-4.8M402.3,399.6v-4.7M437.8,407.0v-5.9M388.4,402.7v-4.5M426.5,406.0v-5.6M510.4,388.6v-5.1M385.2,376.0v-4.1M392.3,376.5v-2.7M476.1,379.7v-4.1M419.5,394.7v-2.8M473.3,359.5v-3.7M444.7,368.2v-2.9M473.8,377.1v-5.9M453.5,376.0v-5.9M528.0,386.3v-4.6M448.6,387.2v-3.7M551.8,373.3v-3.2M517.6,440.5v-3.6M456.5,397.9v-4.2M541.7,433.0v-3.7M440.6,366.7v-3.0M396.2,367.3v-3.9M427.2,376.9v-5.0M487.8,379.1v-4.4M556.1,368.6v-2.9M472.9,359.8v-2.9M521.7,380.3v-4.6M574.3,380.7v-2.5M491.5,389.8v-4.7M430.1,394.2v-6.0M455.2,404.2v-3.8M412.0,400.0v-5.2M366.2,400.3v-3.3M424.1,362.1v-2.6M481.7,368.1v-3.7M444.7,356.2v-4.8M375.9,385.0v-5.0M518.3,403.5v-5.5M446.8,365.5v-3.3M462.4,365.5v-5.0M535.5,392.3v-3.9M515.8,384.4v-5.4M499.8,425.9v-4.6M480.9,410.5v-3.6M401.7,365.6v-5.9M539.1,434.3v-6.1M466.8,374.7v-3.7M575.2,370.5v-2.0M480.3,422.1v-3.1M453.1,365.7v-5.6M393.8,382.6v-2.7M476.8,387.5v-3.9M461.5,362.9v-4.9M425.4,384.3v-5.1M545.3,366.1v-3.0M508.6,388.8v-5.5M382.1,393.4v-3.3M538.3,421.3v-4.9M393.2,383.0v-2.7M452.8,412.9v-5.8M408.3,394.6v-4.9M427.0,395.8v-2.9M433.0,352.8v-2.9M372.1,390.4v-5.0M549.9,429.1v-6.7M461.2,389.8v-5.9M412.1,412.1v-5.6M506.8,382.7v-3.3M571.2,377.5v-5.2M484.3,364.8v-4.4M370.1,405.0v-3.8M366.3,399.2v-4.7M503.9,408.0v-4.9M364.7,386.3v-7.1M396.1,368.4v-5.6M537.8,380.4v-3.5M544.5,375.4v-4.6M540.6,438.5v-7.4M469.3,370.2v-3.1M516.4,442.0v-5.8M416.0,382.6v-4.1M518.0,372.0v-3.3M484.5,399.8v-3.8M536.5,413.9v-3.0M461.3,366.4v-2.9M517.8,390.6v-5.0M379.4,399.3v-3.6M439.7,384.2v-2.5M463.5,391.2v-3.9M506.2,361.5v-2.5M531.1,412.8v-5.9M445.6,349.8v-3.1M542.9,425.6v-4.6M483.9,416.6v-4.1M528.7,365.4v-2.9M406.2,383.1v-6.8M425.1,366.7v-3.6M474.2,410.9v-5.6M561.3,376.4v-4.0M476.4,381.0v-2.8M543.9,384.7v-3.8M494.6,396.3v-4.1M434.6,370.8v-4.5M432.0,419.9v-6.1M468.5,377.7v-4.6M531.2,430.4v-5.0M576.4,387.1v-3.2M540.8,364.9v-3.0M514.6,429.3v-7.5M447.0,402.6v-6.5M523.6,365.1v-4.5M526.2,395.0v-6.3M431.4,353.7v-4.3M453.2,361.1v-3.6M501.1,365.7v-2.6M445.6,369.9v-2.5M499.4,370.3v-3.7M451.4,361.2v-4.9M523.3,391.4v-5.9M500.9,423.3v-4.5M358.9,401.2v-4.7M556.1,377.0v-2.4M408.9,381.1v-6.1M516.3,366.1v-2.1M548.0,428.2v-5.6M553.2,383.7v-2.8M496.0,395.6v-2.5M427.7,391.1v-5.4M442.3,372.1v-4.9M382.4,397.8v-6.1M432.5,409.6v-3.4M560.1,393.6v-3.6M458.1,351.4v-3.9M504.1,403.4v-3.9M423.5,405.7v-5.8M480.5,365.0v-3.4M463.7,383.1v-6.1M460.4,368.7v-3.0M467.8,402.5v-6.5M461.8,359.7v-4.2M492.3,360.3v-3.1M521.2,387.0v-4.0M393.9,375.7v-3.7M491.4,358.9v-2.8M516.6,381.0v-3.1M422.7,407.0v-7.1M422.8,381.5v-3.9M548.8,374.7v-3.9M444.7,415.6v-7.2M392.2,379.6v-4.2M521.5,382.1v-3.5M567.2,371.5v-1.9M492.1,391.7v-3.9M449.5,395.7v-5.6M518.2,362.4v-4.8M560.0,411.9v-6.0M510.4,377.9v-5.7M398.3,373.4v-4.1M477.1,410.9v-7.3M411.5,383.2v-3.2M470.6,368.1v-2.4M429.0,366.5v-4.5M497.3,412.0v-6.3M528.9,376.1v-2.5M421.2,419.0v-7.3M573.6,375.9v-2.0M448.5,378.0v-4.5M431.9,358.4v-3.1M439.7,411.8v-5.5M369.7,398.6v-5.4M457.6,363.6v-2.9M415.0,413.2v-4.0M466.7,379.9v-4.1M509.1,430.5v-6.9M450.8,351.5v-3.4M463.3,375.4v-5.5M554.7,409.1v-2.5M440.0,358.1v-4.5M483.5,418.7v-5.3M356.2,393.3v-4.3M566.8,392.3v-5.4M391.0,375.3v-2.8M394.0,402.2v-7.3M441.1,380.0v-5.0M565.0,371.4v-3.6M497.7,362.9v-3.2M455.7,365.6v-3.0M442.5,384.9v-4.5M441.1,384.5v-4.3M426.8,354.9v-2.2M478.9,383.0v-3.9M386.2,401.6v-4.7M438.3,379.8v-3.3M515.3,394.8v-2.5M486.9,357.6v-1.9M515.7,362.5v-3.0M478.1,397.2v-3.8M496.1,383.2v-3.5M471.4,383.9v-5.4M358.0,395.4v-4.1M455.3,362.1v-3.5M532.0,405.4v-3.7M470.4,423.3v-7.6M521.3,410.0v-4.0M545.5,378.2v-4.3M422.3,358.3v-2.3M496.3,386.0v-6.0M455.8,427.0v-7.6M521.7,388.7v-2.3M508.3,399.2v-5.3M581.8,375.9v-2.1M518.5,399.3v-5.6M445.7,384.1v-4.3M392.5,383.2v-5.8M363.5,394.5v-6.8M503.6,387.7v-2.8M391.5,383.8v-6.8M508.2,363.5v-2.6M458.9,380.0v-5.7M439.7,354.9v-3.5M390.3,374.0v-4.0M527.3,366.3v-3.4M496.9,399.4v-5.8M427.4,360.4v-2.7M462.0,409.1v-4.3M402.5,382.9v-5.1M465.4,392.9v-5.0M525.5,408.1v-5.1M499.0,358.7v-2.8M486.7,411.6v-3.9M517.2,388.2v-3.3M428.0,355.7v-3.3M505.3,397.3v-5.0M511.1,360.9v-4.6M462.0,384.3v-3.3M487.4,425.6v-4.3M502.8,437.2v-6.4M486.2,384.1v-3.6M449.0,352.3v-4.2M498.5,428.7v-6.7M396.2,394.4v-5.2M459.4,416.8v-6.5M510.5,365.2v-4.9M495.1,401.2v-6.6M495.4,407.9v-6.4M495.1,410.4v-3.8M398.4,368.2v-3.4M414.0,393.6v-3.3M449.3,399.6v-3.9M434.6,377.2v-5.9M443.9,356.4v-4.8M493.0,386.0v-5.2M487.9,376.6v-5.6M504.7,413.0v-2.9M545.9,412.0v-5.9M422.8,379.0v-4.0M537.3,367.0v-3.4M470.6,397.4v-3.6M532.6,435.4v-7.4M464.4,423.4v-7.3M412.6,369.0v-2.8M554.3,418.9v-6.4M415.2,362.9v-2.4M402.7,366.7v-6.1M525.2,370.4v-4.6M437.7,416.3v-5.5M421.6,373.4v-3.8M445.1,405.7v-6.0M455.4,383.1v-2.7M472.6,381.0v-6.1M451.1,413.4v-4.3M458.6,368.5v-5.5M581.6,373.8v-4.7M559.5,371.2v-1.9M475.5,379.2v-4.9M498.3,381.8v-5.8M406.3,371.0v-6.2M356.9,393.3v-7.0M528.0,444.8v-3.1M542.4,384.5v-4.1M501.8,372.6v-4.9M346.9,395.1v-6.8M576.9,380.5v-3.4M429.9,388.9v-2.6M503.8,412.5v-5.3M462.2,396.7v-5.5M440.4,401.1v-6.7M384.0,396.1v-4.0M486.8,368.3v-3.2M440.1,368.2v-3.2M454.7,402.4v-6.6M394.1,390.9v-4.1M459.4,367.1v-4.5M526.5,392.7v-2.7M501.1,413.7v-3.7M489.4,356.7v-2.9M475.9,358.9v-5.1M418.6,405.7v-6.6M511.8,407.0v-6.0M432.0,394.5v-5.3M513.0,395.3v-5.7M394.0,370.0v-3.9M434.6,351.9v-2.4M451.6,356.7v-5.1M543.5,413.4v-6.6M430.5,362.7v-5.5M385.2,397.8v-6.0M554.3,384.0v-5.5M452.4,391.5v-3.1M465.4,355.6v-2.1M405.5,383.7v-2.8M409.4,398.9v-3.3M478.2,383.4v-4.6M520.2,392.6v-6.1M376.9,387.9v-3.1M458.7,364.8v-5.3M442.5,408.8v-4.4M466.6,401.4v-6.1M559.1,405.8v-4.9M533.0,400.2v-3.2M576.8,371.3v-1.9M512.1,401.5v-2.7M384.4,394.1v-6.2M375.2,407.0v-4.1M525.7,395.9v-5.0M437.4,405.4v-2.9M393.8,409.3v-4.2M482.1,398.0v-4.6M478.9,402.0v-4.2M547.2,393.5v-3.9M474.6,388.9v-3.8M532.7,421.9v-7.0M556.1,373.9v-2.5M503.6,359.2v-2.7M435.4,363.0v-3.0M457.6,412.6v-7.2M396.4,404.2v-6.2M449.7,376.5v-4.3M551.4,399.7v-3.9M392.0,369.8v-3.5M492.8,379.5v-4.0M404.9,372.2v-4.3M524.0,363.3v-2.7M423.6,412.1v-6.8M452.4,359.6v-4.7M460.4,356.8v-3.5M462.3,379.2v-6.0M467.5,385.7v-3.6M534.2,397.2v-3.8M394.3,392.5v-6.6M551.7,367.3v-4.6M522.1,373.5v-4.5M544.4,377.1v-2.6M516.0,411.2v-3.7M518.8,442.7v-5.5M466.0,364.2v-4.1M568.9,372.8v-3.9M415.7,362.9v-2.6M579.7,378.5v-3.0M435.4,364.8v-4.9M569.7,394.4v-2.7M477.9,428.2v-7.2M536.2,376.7v-5.1M510.8,362.7v-3.9M460.1,392.1v-4.0M361.1,389.8v-6.5M438.6,368.0v-5.1M506.7,390.8v-3.6M404.1,397.3v-5.8M530.0,365.9v-2.9M571.0,374.5v-2.8M562.8,393.4v-5.9M509.8,407.1v-3.8M473.6,386.5v-2.6M540.4,395.8v-4.2M497.6,412.4v-3.6M464.4,405.8v-4.2M355.9,398.9v-4.7M504.4,361.4v-3.8M448.5,387.9v-3.5M496.7,359.6v-2.2M472.8,372.1v-4.9M490.1,378.3v-5.7M531.4,419.8v-5.1M567.8,401.7v-3.1M486.3,430.5v-3.7M461.5,402.3v-5.9M499.2,406.1v-6.0M510.3,377.5v-3.8M423.9,409.9v-5.1M575.2,376.7v-2.1M380.2,384.7v-5.8M427.0,408.4v-4.9M499.8,373.1v-3.5M509.1,379.0v-4.4M416.7,360.4v-2.6M397.6,372.5v-2.5M392.5,377.6v-4.5M442.9,351.1v-4.5M474.8,379.3v-3.5M541.3,436.4v-4.3M453.0,357.6v-3.6M447.1,388.2v-6.2M453.1,362.0v-4.5M450.9,391.7v-4.4M447.4,395.3v-5.3M439.0,394.5v-6.0M460.8,385.1v-6.0M452.8,391.3v-6.4M575.1,383.5v-3.4M516.4,376.2v-3.2M536.7,366.6v-3.9M496.3,395.3v-5.2M447.0,362.2v-3.9M554.2,415.7v-5.7M386.7,374.5v-5.7M440.2,371.0v-3.1M487.3,356.1v-2.4M520.0,438.4v-5.8M548.3,375.4v-3.3M500.7,375.4v-4.9M520.5,388.6v-3.3M511.6,388.2v-4.4M543.2,434.9v-6.5M458.7,366.9v-5.5M438.8,373.9v-4.4M441.5,407.9v-5.7M553.3,388.3v-3.3M522.1,401.8v-3.1M486.5,391.2v-4.6M568.5,398.4v-6.0M465.2,366.1v-2.4M452.4,368.0v-4.7M524.1,405.8v-3.7M449.8,378.1v-2.5M461.5,372.0v-2.8M466.7,359.5v-5.0M399.2,397.0v-3.3M428.6,357.6v-4.6M430.8,377.9v-5.2M422.6,355.1v-4.9M439.8,365.0v-4.7M470.9,359.9v-2.7M450.9,396.2v-4.6M532.5,391.5v-4.7M548.8,426.6v-3.7M464.0,414.8v-7.4M439.0,383.3v-4.2M553.1,371.3v-4.0M404.2,382.8v-5.6M453.5,356.7v-4.8M413.7,384.1v-3.5M475.1,428.9v-6.4M429.0,354.9v-3.8M451.6,417.7v-3.1" stroke="#a9ab9e" stroke-width="0.7" opacity="0.8"/>
<polygon points="434.9,364.5 447.4,366.8 445.6,326.7" fill="#7f8275" stroke="#7f8275" stroke-width="0.4" stroke-linejoin="round" />
<polygon points="447.4,366.8 456.0,360.9 445.6,326.7" fill="#797c6e" stroke="#797c6e" stroke-width="0.4" stroke-linejoin="round" />
<polygon points="463.3,368.8 476.6,371.2 474.0,330.4" fill="#7f8275" stroke="#7f8275" stroke-width="0.4" stroke-linejoin="round" />
<polygon points="476.6,371.2 484.5,365.0 474.0,330.4" fill="#797c6e" stroke="#797c6e" stroke-width="0.4" stroke-linejoin="round" />
<polygon points="417.4,371.2 430.1,373.6 428.6,334.0" fill="#888a7d" stroke="#888a7d" stroke-width="0.4" stroke-linejoin="round" />
<polygon points="430.1,373.6 439.7,367.3 428.6,334.0" fill="#818376" stroke="#818376" stroke-width="0.4" stroke-linejoin="round" />
<polygon points="494.0,373.4 508.3,375.9 504.7,334.3" fill="#7f8275" stroke="#7f8275" stroke-width="0.4" stroke-linejoin="round" />
<polygon points="508.3,375.9 515.3,369.4 504.7,334.3" fill="#797c6e" stroke="#797c6e" stroke-width="0.4" stroke-linejoin="round" />
<polygon points="447.2,376.3 460.9,378.9 458.6,338.3" fill="#888a7d" stroke="#888a7d" stroke-width="0.4" stroke-linejoin="round" />
<polygon points="460.9,378.9 469.7,372.2 458.6,338.3" fill="#818376" stroke="#818376" stroke-width="0.4" stroke-linejoin="round" />
<polygon points="527.2,378.3 542.6,381.0 538.0,338.6" fill="#7f8275" stroke="#7f8275" stroke-width="0.4" stroke-linejoin="round" />
<polygon points="542.6,381.0 548.5,374.1 538.0,338.6" fill="#797c6e" stroke="#797c6e" stroke-width="0.4" stroke-linejoin="round" />
<polygon points="397.1,379.1 410.0,381.8 409.0,342.5" fill="#919385" stroke="#919385" stroke-width="0.4" stroke-linejoin="round" />
<polygon points="410.0,381.8 420.7,374.9 409.0,342.5" fill="#898b7e" stroke="#898b7e" stroke-width="0.4" stroke-linejoin="round" />
<polygon points="479.7,381.8 494.4,384.6 491.1,342.9" fill="#888a7d" stroke="#888a7d" stroke-width="0.4" stroke-linejoin="round" />
<polygon points="494.4,384.6 502.3,377.5 491.1,342.9" fill="#818376" stroke="#818376" stroke-width="0.4" stroke-linejoin="round" />
<polygon points="563.4,383.6 579.9,386.5 574.1,343.3" fill="#7f8275" stroke="#7f8275" stroke-width="0.4" stroke-linejoin="round" />
<polygon points="579.9,386.5 584.6,379.1 574.1,343.3" fill="#797c6e" stroke="#797c6e" stroke-width="0.4" stroke-linejoin="round" />
<polygon points="428.5,385.2 442.5,388.1 440.6,347.5" fill="#919385" stroke="#919385" stroke-width="0.4" stroke-linejoin="round" />
<polygon points="442.5,388.1 452.4,380.8 440.6,347.5" fill="#898b7e" stroke="#898b7e" stroke-width="0.4" stroke-linejoin="round" />
<polygon points="515.1,387.8 531.0,390.8 526.5,347.9" fill="#888a7d" stroke="#888a7d" stroke-width="0.4" stroke-linejoin="round" />
<polygon points="531.0,390.8 537.7,383.1 526.5,347.9" fill="#818376" stroke="#818376" stroke-width="0.4" stroke-linejoin="round" />
<polygon points="373.2,388.5 386.4,391.5 386.0,352.4" fill="#999c8e" stroke="#999c8e" stroke-width="0.4" stroke-linejoin="round" />
<polygon points="386.4,391.5 398.5,383.9 386.0,352.4" fill="#919385" stroke="#919385" stroke-width="0.4" stroke-linejoin="round" />
<polygon points="462.9,391.8 478.1,395.0 475.1,352.9" fill="#919385" stroke="#919385" stroke-width="0.4" stroke-linejoin="round" />
<polygon points="478.1,395.0 487.0,387.1 475.1,352.9" fill="#898b7e" stroke="#898b7e" stroke-width="0.4" stroke-linejoin="round" />
<polygon points="553.9,394.2 571.1,397.5 565.3,353.5" fill="#888a7d" stroke="#888a7d" stroke-width="0.4" stroke-linejoin="round" />
<polygon points="571.1,397.5 576.5,389.3 565.3,353.5" fill="#818376" stroke="#818376" stroke-width="0.4" stroke-linejoin="round" />
<polygon points="406.3,395.8 420.7,399.1 419.3,358.3" fill="#999c8e" stroke="#999c8e" stroke-width="0.4" stroke-linejoin="round" />
<polygon points="420.7,399.1 432.0,390.9 419.3,358.3" fill="#919385" stroke="#919385" stroke-width="0.4" stroke-linejoin="round" />
<polygon points="500.7,399.0 517.3,402.4 513.0,358.9" fill="#919385" stroke="#919385" stroke-width="0.4" stroke-linejoin="round" />
<polygon points="517.3,402.4 524.9,393.9 513.0,358.9" fill="#898b7e" stroke="#898b7e" stroke-width="0.4" stroke-linejoin="round" />
<polygon points="344.8,399.8 358.2,403.2 358.6,364.2" fill="#a2a496" stroke="#a2a496" stroke-width="0.4" stroke-linejoin="round" />
<polygon points="358.2,403.2 372.1,394.7 358.6,364.2" fill="#999b8d" stroke="#999b8d" stroke-width="0.4" stroke-linejoin="round" />
<polygon points="442.9,403.8 458.6,407.4 456.0,364.9" fill="#999c8e" stroke="#999c8e" stroke-width="0.4" stroke-linejoin="round" />
<polygon points="458.6,407.4 468.8,398.5 456.0,364.9" fill="#919385" stroke="#919385" stroke-width="0.4" stroke-linejoin="round" />
<polygon points="542.5,406.9 560.6,410.6 554.8,365.5" fill="#919385" stroke="#919385" stroke-width="0.4" stroke-linejoin="round" />
<polygon points="560.6,410.6 566.8,401.3 554.8,365.5" fill="#898b7e" stroke="#898b7e" stroke-width="0.4" stroke-linejoin="round" />
<polygon points="379.7,408.7 394.4,412.4 393.8,371.4" fill="#a2a496" stroke="#a2a496" stroke-width="0.4" stroke-linejoin="round" />
<polygon points="394.4,412.4 407.5,403.2 393.8,371.4" fill="#999b8d" stroke="#999b8d" stroke-width="0.4" stroke-linejoin="round" />
<polygon points="483.5,412.6 500.8,416.5 496.7,372.1" fill="#999c8e" stroke="#999c8e" stroke-width="0.4" stroke-linejoin="round" />
<polygon points="500.8,416.5 509.6,406.8 496.7,372.1" fill="#919385" stroke="#919385" stroke-width="0.4" stroke-linejoin="round" />
<polygon points="418.6,418.4 434.9,422.6 432.9,379.4" fill="#a2a496" stroke="#a2a496" stroke-width="0.4" stroke-linejoin="round" />
<polygon points="434.9,422.6 446.9,412.4 432.9,379.4" fill="#999b8d" stroke="#999b8d" stroke-width="0.4" stroke-linejoin="round" />
<polygon points="528.7,422.2 547.9,426.5 542.0,380.2" fill="#999c8e" stroke="#999c8e" stroke-width="0.4" stroke-linejoin="round" />
<polygon points="547.9,426.5 555.0,415.8 542.0,380.2" fill="#919385" stroke="#919385" stroke-width="0.4" stroke-linejoin="round" />
<polygon points="462.3,429.2 480.4,433.7 476.8,388.3" fill="#a2a496" stroke="#a2a496" stroke-width="0.4" stroke-linejoin="round" />
<polygon points="480.4,433.7 490.9,422.5 476.8,388.3" fill="#999b8d" stroke="#999b8d" stroke-width="0.4" stroke-linejoin="round" />
<polygon points="511.6,441.1 532.0,446.2 526.2,398.4" fill="#a2a496" stroke="#a2a496" stroke-width="0.4" stroke-linejoin="round" />
<polygon points="532.0,446.2 540.4,433.7 526.2,398.4" fill="#999b8d" stroke="#999b8d" stroke-width="0.4" stroke-linejoin="round" />
<polygon points="338.2,406.8 536.9,461.6 536.9,450.2 338.5,399.8" fill="#95978a" stroke="#95978a" stroke-width="0.4" stroke-linejoin="round" />
<polygon points="536.9,461.6 587.5,376.0 587.9,371.8 536.9,450.2" fill="#919386" stroke="#919386" stroke-width="0.4" stroke-linejoin="round" />
<path d="M338.5,406.9v-4.8M339.8,407.3v-4.5M340.7,407.5v-5.8M341.2,407.6v-6.4M342.2,407.9v-6.1M343.2,408.2v-4.7M344.6,408.6v-7.8M345.3,408.8v-5.3M346.8,409.2v-8.4M347.7,409.4v-6.0M349.1,409.8v-4.5M350.0,410.0v-5.6M350.3,410.1v-4.9M351.4,410.4v-7.9M352.3,410.7v-6.9M353.7,411.1v-6.0M354.6,411.3v-4.7M355.1,411.5v-5.3M356.8,411.9v-6.3M357.4,412.1v-7.1M358.5,412.4v-5.8M359.9,412.8v-7.6M360.3,412.9v-7.1M361.6,413.2v-8.5M362.8,413.6v-5.8M364.0,413.9v-5.1M364.4,414.0v-8.0M365.2,414.2v-6.8M366.1,414.5v-7.6M367.8,415.0v-7.2M368.9,415.3v-6.1M369.7,415.5v-7.4M370.6,415.7v-6.7M371.8,416.1v-9.0M372.5,416.2v-7.7M373.0,416.4v-7.9M374.6,416.8v-9.3M375.8,417.2v-6.0M376.3,417.3v-7.9M377.0,417.5v-6.9M378.1,417.8v-5.3M379.0,418.1v-8.4M380.1,418.3v-5.9M381.3,418.7v-8.9M382.0,418.9v-6.9M383.5,419.3v-9.0M384.7,419.6v-9.0M385.2,419.8v-6.8M386.2,420.1v-9.1M387.8,420.5v-5.6M388.1,420.5v-6.0M389.1,420.8v-7.2M390.4,421.2v-6.2M390.9,421.3v-7.0M392.2,421.7v-7.7M393.8,422.1v-8.3M394.3,422.3v-8.0M395.5,422.6v-5.2M396.7,422.9v-8.9M397.7,423.2v-9.0M398.2,423.3v-7.0M398.9,423.5v-8.2M399.9,423.8v-5.4M401.0,424.1v-5.9M402.1,424.4v-5.3M402.8,424.6v-5.8M403.9,424.9v-6.9M404.8,425.2v-9.5M406.4,425.6v-5.9M407.0,425.8v-6.9M408.1,426.1v-5.8M409.6,426.5v-10.3M410.2,426.7v-7.7M410.8,426.8v-5.7M412.1,427.2v-6.6M413.5,427.6v-6.0M413.7,427.6v-10.2M415.2,428.0v-6.0M416.2,428.3v-5.4M417.2,428.6v-10.4M418.5,429.0v-8.9M418.9,429.1v-7.2M419.8,429.3v-9.4M421.2,429.7v-9.4M422.0,429.9v-6.5M423.5,430.3v-10.6M424.5,430.6v-9.7M425.4,430.9v-9.3M425.9,431.0v-8.1M427.0,431.3v-5.5M427.6,431.5v-6.9M428.9,431.8v-9.1M430.6,432.3v-7.9M431.5,432.5v-10.8M432.5,432.8v-7.4M432.8,432.9v-6.7M433.8,433.2v-6.6M435.2,433.5v-10.4M436.4,433.9v-8.1M437.2,434.1v-9.9M437.6,434.2v-9.2M439.4,434.7v-9.9M440.3,435.0v-8.2M440.7,435.1v-10.0M441.9,435.4v-10.0M443.5,435.8v-7.8M443.9,436.0v-10.9M445.2,436.3v-6.6M445.6,436.4v-6.5M447.4,436.9v-10.2M447.6,437.0v-10.3M449.5,437.5v-9.4M449.8,437.6v-8.8M450.6,437.8v-5.8M452.4,438.3v-9.4M453.0,438.5v-11.1M453.9,438.7v-10.7M455.3,439.1v-7.0M455.7,439.2v-7.4M456.7,439.5v-9.2M457.7,439.8v-8.2M458.5,440.0v-11.1M459.8,440.3v-8.5M461.0,440.7v-11.1M461.8,440.9v-11.2M462.9,441.2v-9.0M463.9,441.5v-6.0M464.8,441.7v-7.0M465.4,441.9v-10.6M466.5,442.2v-8.7M468.1,442.6v-9.2M468.7,442.8v-9.0M469.9,443.1v-10.6M470.4,443.3v-9.3M471.6,443.6v-7.6M473.1,444.0v-9.0M473.9,444.2v-10.6M475.2,444.6v-8.7M475.9,444.8v-9.1M476.8,445.0v-10.2M477.7,445.3v-9.3M478.8,445.6v-11.8M480.0,445.9v-11.4M481.2,446.2v-7.7M481.8,446.4v-11.9M483.1,446.8v-7.0M483.4,446.8v-8.8M484.3,447.1v-7.6M485.3,447.4v-10.3M487.0,447.8v-11.7M487.4,447.9v-10.6M488.9,448.4v-7.1M490.1,448.7v-12.2M490.4,448.8v-12.1M491.6,449.1v-9.3M493.2,449.5v-11.5M493.3,449.6v-9.0M494.7,450.0v-8.4M495.4,450.1v-8.3M496.9,450.6v-6.4M497.7,450.8v-9.1M498.2,450.9v-8.4M499.8,451.4v-9.6M500.2,451.5v-12.6M501.9,452.0v-12.6M502.2,452.0v-8.1M503.2,452.3v-11.4M504.4,452.6v-7.2M505.5,452.9v-12.3M506.9,453.3v-8.1M507.2,453.4v-12.4M508.7,453.8v-11.0M509.2,454.0v-6.8M510.8,454.4v-9.3M511.1,454.5v-12.6M512.7,454.9v-11.7M513.1,455.0v-12.1M514.1,455.3v-12.2M515.5,455.7v-8.8M516.6,456.0v-12.7M517.3,456.2v-7.4M518.5,456.5v-8.2M519.1,456.7v-7.7M520.1,457.0v-8.0M521.3,457.3v-8.7M522.8,457.7v-8.6M523.5,457.9v-7.8M524.3,458.1v-6.8M525.2,458.4v-6.8M526.7,458.8v-10.4M527.2,458.9v-9.9M528.9,459.4v-7.4M529.8,459.6v-9.7M530.4,459.8v-12.4M531.3,460.1v-10.2M532.6,460.4v-13.4M533.3,460.6v-12.4M534.6,461.0v-11.1M535.3,461.2v-9.2M536.0,461.3v-7.7M536.9,461.5v-11.9M537.5,460.5v-7.9M538.0,459.8v-12.4M538.9,458.3v-11.1M539.1,457.9v-8.3M539.6,457.1v-9.6M540.0,456.3v-9.5M540.6,455.4v-12.8M541.4,453.9v-10.0M541.6,453.7v-12.7M542.1,452.8v-8.7M542.5,452.2v-8.8M543.2,450.9v-9.5M543.6,450.3v-9.4M544.0,449.6v-7.9M544.5,448.7v-8.7M545.0,447.9v-6.3M545.7,446.8v-7.5M546.3,445.7v-9.2M546.9,444.7v-9.9M547.4,443.9v-11.2M547.7,443.3v-7.8M548.5,441.9v-6.7M548.9,441.3v-9.6M549.1,441.0v-10.6M550.0,439.4v-9.3M550.4,438.7v-10.3M550.6,438.4v-8.6M551.3,437.2v-10.3M552.0,436.1v-10.1M552.4,435.4v-10.4M552.9,434.5v-9.3M553.2,434.0v-5.6M553.7,433.2v-7.4M554.2,432.4v-9.9M554.9,431.2v-8.6M555.4,430.2v-8.8M555.9,429.5v-5.2M556.5,428.4v-9.0M556.9,427.8v-7.9M557.5,426.8v-5.4M558.0,425.9v-6.3M558.2,425.6v-6.4M559.0,424.2v-6.0M559.5,423.3v-9.7M559.9,422.7v-6.7M560.4,421.8v-8.1M561.1,420.7v-7.7M561.5,420.0v-5.1M561.8,419.5v-5.9M562.6,418.2v-6.1M563.0,417.5v-4.7M563.2,417.0v-5.8M564.1,415.7v-7.7M564.6,414.8v-5.8M565.0,414.1v-6.5M565.5,413.3v-4.9M566.2,412.0v-5.2M566.7,411.1v-8.3M566.8,411.1v-6.3M567.7,409.5v-8.3M568.0,409.0v-5.3M568.4,408.3v-8.1M568.9,407.5v-6.5M569.4,406.7v-6.2M570.3,405.1v-4.5M570.7,404.4v-6.0M571.3,403.5v-6.7M571.4,403.2v-7.4M572.1,402.1v-3.9M572.3,401.7v-5.7M573.1,400.4v-4.9M573.4,399.8v-5.0M574.0,398.8v-6.8M574.3,398.3v-6.4M575.3,396.7v-4.0M575.8,395.8v-6.0M576.3,394.9v-4.5M576.6,394.5v-4.8M577.4,393.1v-5.4M577.6,392.8v-4.8M578.0,392.0v-3.5M578.4,391.3v-6.0M579.0,390.3v-6.3M579.5,389.5v-4.1M580.2,388.4v-3.7M580.6,387.7v-6.1M581.4,386.4v-5.5M581.7,385.7v-5.8M582.4,384.6v-4.6M582.8,383.9v-3.1M583.3,383.1v-4.2M583.8,382.2v-4.7M584.1,381.7v-2.9M584.9,380.3v-3.1M585.2,379.9v-3.6M585.6,379.2v-4.7M586.5,377.7v-3.3M586.8,377.2v-3.4M587.3,376.4v-3.5" stroke="#b5b7aa" stroke-width="0.6" opacity="0.85"/>
</g>
<polygon points="694.8,452.5 769.2,477.3 769.2,484.0 695.7,459.2" fill="#a4a698" stroke="#a4a698"  stroke-linejoin="round" stroke-width="1"/>
<polygon points="769.2,477.3 804.5,431.5 804.0,437.2 769.2,484.0" fill="#acaea0" stroke="#acaea0"  stroke-linejoin="round" stroke-width="1"/>
<polygon points="694.8,452.5 769.2,477.3 804.5,431.5 731.0,409.0" fill="#a9ab9d" stroke="#a9ab9d" stroke-width="0.4" stroke-linejoin="round" />
<polygon points="705.3,450.6 765.4,469.7 748.9,289.4" fill="#a0a295" stroke="#a0a295" stroke-width="0.4" stroke-linejoin="round" />
<polygon points="765.4,469.7 795.9,434.4 748.9,289.4" fill="#97998c" stroke="#97998c" stroke-width="0.4" stroke-linejoin="round" />
<g fill="#dcd4a8" stroke="#c9c196" stroke-width="0.6"><circle cx="748.9" cy="291.4" r="1.95"/><circle cx="750.8" cy="295.2" r="1.95"/><circle cx="747.2" cy="295.8" r="1.95"/><circle cx="752.2" cy="299.5" r="1.95"/><circle cx="745.8" cy="300.7" r="1.95"/><circle cx="749.5" cy="301.8" r="1.95"/><circle cx="753.6" cy="303.9" r="1.95"/><circle cx="744.5" cy="305.5" r="1.95"/><circle cx="749.8" cy="307.2" r="1.95"/><circle cx="755.0" cy="308.2" r="1.95"/><circle cx="743.2" cy="310.4" r="1.95"/><circle cx="747.8" cy="311.8" r="1.95"/><circle cx="751.9" cy="311.8" r="1.95"/><circle cx="756.4" cy="312.6" r="1.95"/><circle cx="741.9" cy="315.2" r="1.95"/><circle cx="753.6" cy="315.9" r="1.95"/><circle cx="746.1" cy="316.5" r="1.95"/><circle cx="750.3" cy="317.9" r="1.95"/><circle cx="758.8" cy="319.8" r="1.95"/><circle cx="739.7" cy="323.3" r="1.95"/><circle cx="761.1" cy="327.1" r="1.95"/><circle cx="752.4" cy="327.3" r="1.95"/><circle cx="761.8" cy="329.1" r="1.95"/><circle cx="737.6" cy="331.3" r="1.95"/><circle cx="737.2" cy="332.7" r="1.95"/><circle cx="746.6" cy="334.2" r="1.95"/><circle cx="754.9" cy="334.3" r="1.95"/><circle cx="753.3" cy="337.0" r="1.95"/><circle cx="764.8" cy="338.3" r="1.95"/><circle cx="765.8" cy="341.6" r="1.95"/><circle cx="734.7" cy="342.1" r="1.95"/><circle cx="745.6" cy="342.6" r="1.95"/><circle cx="754.1" cy="346.7" r="1.95"/><circle cx="733.2" cy="347.4" r="1.95"/><circle cx="767.7" cy="347.5" r="1.95"/><circle cx="759.4" cy="349.1" r="1.95"/><circle cx="742.6" cy="350.4" r="1.95"/><circle cx="732.1" cy="351.5" r="1.95"/><circle cx="752.0" cy="353.4" r="1.95"/><circle cx="770.5" cy="356.1" r="1.95"/><circle cx="755.0" cy="356.4" r="1.95"/><circle cx="770.7" cy="356.8" r="1.95"/><circle cx="744.6" cy="359.8" r="1.95"/><circle cx="729.6" cy="360.9" r="1.95"/><circle cx="765.0" cy="362.5" r="1.95"/><circle cx="728.8" cy="363.6" r="1.95"/><circle cx="773.7" cy="366.0" r="1.95"/><circle cx="755.9" cy="366.1" r="1.95"/><circle cx="736.9" cy="366.1" r="1.95"/><circle cx="744.9" cy="368.6" r="1.95"/><circle cx="759.5" cy="368.8" r="1.95"/><circle cx="727.0" cy="370.3" r="1.95"/><circle cx="775.2" cy="370.6" r="1.95"/><circle cx="752.9" cy="371.2" r="1.95"/><circle cx="776.7" cy="375.2" r="1.95"/><circle cx="756.8" cy="375.8" r="1.95"/><circle cx="769.5" cy="377.2" r="1.95"/><circle cx="724.5" cy="379.7" r="1.95"/><circle cx="724.5" cy="379.7" r="1.95"/><circle cx="732.8" cy="382.3" r="1.95"/><circle cx="763.7" cy="383.9" r="1.95"/><circle cx="779.7" cy="384.4" r="1.95"/><circle cx="741.2" cy="385.0" r="1.95"/><circle cx="779.9" cy="385.1" r="1.95"/><circle cx="757.7" cy="385.5" r="1.95"/><circle cx="749.6" cy="387.6" r="1.95"/><circle cx="721.9" cy="389.1" r="1.95"/><circle cx="757.9" cy="390.3" r="1.95"/><circle cx="774.0" cy="391.9" r="1.95"/><circle cx="782.7" cy="393.7" r="1.95"/><circle cx="758.6" cy="395.2" r="1.95"/><circle cx="720.1" cy="395.8" r="1.95"/><circle cx="719.4" cy="398.5" r="1.95"/><circle cx="728.8" cy="398.5" r="1.95"/><circle cx="768.1" cy="398.8" r="1.95"/><circle cx="784.6" cy="399.6" r="1.95"/><circle cx="737.4" cy="401.3" r="1.95"/><circle cx="785.7" cy="402.9" r="1.95"/><circle cx="746.0" cy="404.0" r="1.95"/><circle cx="759.5" cy="404.9" r="1.95"/><circle cx="762.2" cy="405.6" r="1.95"/><circle cx="778.6" cy="406.6" r="1.95"/><circle cx="754.6" cy="406.8" r="1.95"/><circle cx="716.9" cy="407.9" r="1.95"/><circle cx="715.8" cy="411.9" r="1.95"/><circle cx="788.7" cy="412.1" r="1.95"/><circle cx="772.5" cy="413.6" r="1.95"/><circle cx="789.3" cy="414.1" r="1.95"/><circle cx="760.4" cy="414.6" r="1.95"/><circle cx="724.6" cy="414.7" r="1.95"/><circle cx="714.3" cy="417.3" r="1.95"/><circle cx="733.4" cy="417.5" r="1.95"/><circle cx="742.3" cy="420.3" r="1.95"/><circle cx="766.4" cy="420.6" r="1.95"/><circle cx="783.2" cy="421.2" r="1.95"/><circle cx="791.7" cy="421.3" r="1.95"/><circle cx="751.1" cy="423.1" r="1.95"/><circle cx="761.2" cy="424.3" r="1.95"/><circle cx="759.9" cy="425.9" r="1.95"/><circle cx="711.8" cy="426.7" r="1.95"/><circle cx="711.4" cy="428.0" r="1.95"/><circle cx="777.0" cy="428.4" r="1.95"/><circle cx="794.0" cy="428.6" r="1.95"/><circle cx="720.4" cy="430.9" r="1.95"/><circle cx="729.4" cy="433.7" r="1.95"/><circle cx="762.1" cy="434.1" r="1.95"/><circle cx="788.3" cy="435.2" r="1.95"/><circle cx="770.8" cy="435.5" r="1.95"/><circle cx="709.2" cy="436.1" r="1.95"/><circle cx="738.4" cy="436.6" r="1.95"/><circle cx="747.4" cy="439.5" r="1.95"/><circle cx="782.5" cy="441.9" r="1.95"/><circle cx="756.4" cy="442.3" r="1.95"/><circle cx="764.6" cy="442.7" r="1.95"/><circle cx="763.0" cy="443.8" r="1.95"/><circle cx="707.0" cy="444.2" r="1.95"/><circle cx="715.4" cy="446.8" r="1.95"/><circle cx="776.8" cy="448.5" r="1.95"/><circle cx="723.8" cy="449.5" r="1.95"/><circle cx="732.1" cy="452.1" r="1.95"/><circle cx="763.9" cy="453.5" r="1.95"/><circle cx="740.5" cy="454.8" r="1.95"/><circle cx="771.1" cy="455.2" r="1.95"/><circle cx="748.9" cy="457.4" r="1.95"/><circle cx="757.2" cy="460.1" r="1.95"/><circle cx="765.3" cy="461.8" r="1.95"/></g>
<polygon points="141.4,462.0 218.7,481.1 218.7,485.0 141.4,465.5" fill="#d7d8cd" stroke="#d7d8cd"  stroke-linejoin="round" stroke-width="1"/>
<polygon points="218.7,481.1 251.1,441.0 251.0,444.5 218.7,485.0" fill="#dfe0d5" stroke="#dfe0d5"  stroke-linejoin="round" stroke-width="1"/>
<polygon points="141.4,462.0 218.7,481.1 251.1,441.0 175.0,423.0" fill="#999b8e" stroke="#999b8e" stroke-width="0.4" stroke-linejoin="round" />
<g filter="url(#fur)">
<polygon points="195.5,289.4 167.0,392.0 152.0,444.0 145.0,452.0 211.0,470.0" fill="#a1a395" stroke="#a1a395" stroke-width="0.4" stroke-linejoin="round" />
<polygon points="195.5,289.4 211.0,470.0 249.0,442.0 242.0,436.0 223.0,392.0" fill="#9a9c8f" stroke="#9a9c8f" stroke-width="0.4" stroke-linejoin="round" />
<polygon points="141.4,462.0 218.7,481.1 251.1,441.0 251.1,429.8 249.8,431.9 248.8,432.3 247.7,434.9 246.9,436.2 245.5,436.9 244.8,436.1 243.1,441.3 242.7,439.7 241.6,442.7 240.4,443.6 239.4,446.7 237.7,445.6 237.0,447.1 236.0,450.9 235.4,450.0 233.6,452.3 232.7,451.8 232.1,454.1 230.6,454.9 229.6,456.4 228.4,458.0 227.7,460.0 226.1,458.8 224.7,460.5 224.2,465.0 222.7,465.2 222.0,468.2 220.7,469.3 219.8,466.6 219.1,468.1 217.0,470.4 214.9,471.2 213.3,470.7 210.8,467.1 208.9,469.3 206.7,466.0 205.5,464.7 203.0,468.3 201.6,465.5 199.6,466.7 197.8,464.6 195.9,462.4 193.7,465.4 192.0,461.3 189.9,461.1 187.9,460.8 185.7,461.7 183.9,462.1 182.1,462.0 180.5,460.9 177.8,461.4 176.6,461.4 174.2,457.3 172.2,457.4 170.6,456.4 168.7,456.1 166.9,457.4 164.4,458.8 162.9,455.9 160.9,457.7 158.8,454.3 157.0,453.3 155.1,455.9 153.3,454.0 151.6,453.6 148.9,454.1 146.7,451.0 145.4,453.9 143.2,451.1 141.1,450.9" fill="#9c9e91" stroke="#9c9e91"  stroke-linejoin="round" stroke-width="0"/>
<path d="M142.0,462.1v-7.7M142.8,462.3v-11.6M143.6,462.5v-8.8M144.9,462.9v-8.8M145.4,463.0v-9.9M146.8,463.3v-8.1M147.4,463.5v-9.4M148.8,463.8v-10.0M149.8,464.1v-8.5M150.4,464.2v-11.2M151.7,464.6v-10.0M152.2,464.7v-8.2M153.4,465.0v-8.6M154.6,465.3v-12.2M155.1,465.4v-9.1M156.5,465.7v-11.1M157.5,466.0v-9.4M157.9,466.1v-9.1M159.4,466.4v-9.0M160.0,466.6v-9.8M161.0,466.9v-9.8M162.4,467.2v-8.4M162.7,467.3v-12.8M164.3,467.7v-13.1M164.9,467.8v-12.8M166.3,468.1v-8.7M167.1,468.3v-12.2M168.0,468.6v-10.4M168.7,468.7v-9.4M169.6,469.0v-7.9M170.8,469.3v-9.1M172.0,469.6v-7.8M173.0,469.8v-11.4M174.0,470.1v-12.5M174.9,470.3v-10.7M175.2,470.4v-11.7M176.3,470.6v-9.2M177.7,471.0v-10.5M178.4,471.2v-12.8M179.6,471.4v-9.4M180.2,471.6v-12.3M181.4,471.9v-11.9M182.3,472.1v-8.6M183.4,472.4v-12.1M184.0,472.5v-12.0M185.6,472.9v-12.0M186.5,473.1v-7.5M187.3,473.3v-12.4M187.8,473.5v-9.0M189.0,473.8v-10.5M190.0,474.0v-10.2M191.3,474.3v-7.5M191.7,474.4v-8.2M192.7,474.7v-7.9M194.3,475.1v-12.3M194.6,475.1v-10.3M195.8,475.4v-9.3M196.7,475.7v-11.1M197.9,476.0v-9.5M198.6,476.1v-9.3M199.5,476.3v-10.6M200.9,476.7v-9.6M201.4,476.8v-8.5M202.6,477.1v-10.9M203.8,477.4v-9.6M204.8,477.7v-11.0M205.5,477.8v-9.6M206.5,478.1v-11.5M207.4,478.3v-11.4M208.4,478.6v-8.9M209.5,478.8v-11.4M210.1,479.0v-9.9M211.3,479.3v-12.4M212.7,479.6v-9.6M213.6,479.8v-11.9M214.1,480.0v-10.1M214.9,480.2v-12.1M216.3,480.5v-12.5M217.4,480.8v-11.3M218.3,481.0v-10.7M218.7,481.0v-10.8M219.2,480.4v-8.3M220.1,479.3v-7.7M220.4,479.0v-8.1M221.2,478.0v-8.5M221.4,477.7v-12.2M222.0,477.0v-12.2M222.8,476.1v-12.2M223.4,475.2v-10.8M223.9,474.7v-7.7M224.4,474.0v-10.4M224.9,473.4v-8.1M225.5,472.7v-12.8M225.7,472.4v-9.3M226.5,471.4v-12.2M226.9,470.9v-8.5M227.4,470.3v-11.0M228.2,469.3v-9.7M228.6,468.9v-9.7M229.1,468.2v-9.9M229.5,467.7v-10.3M230.5,466.5v-9.8M230.9,466.0v-8.4M231.4,465.4v-11.8M232.0,464.7v-10.4M232.4,464.1v-11.1M233.1,463.2v-8.3M233.3,463.0v-11.7M234.2,461.9v-10.4M234.6,461.5v-11.5M235.0,461.0v-9.0M235.5,460.3v-10.8M236.1,459.5v-8.8M236.8,458.7v-12.9M237.2,458.2v-11.5M237.8,457.5v-12.3M238.4,456.7v-9.0M238.8,456.3v-7.6M239.4,455.4v-9.7M239.8,454.9v-9.5M240.4,454.2v-11.9M240.9,453.6v-13.1M241.6,452.8v-10.9M242.1,452.1v-12.2M242.8,451.3v-10.6M243.2,450.8v-11.6M243.9,449.9v-9.8M244.4,449.3v-12.9M244.8,448.8v-8.8M245.3,448.2v-11.5M246.0,447.3v-12.9M246.6,446.6v-8.9M246.9,446.2v-9.0M247.4,445.6v-11.5M248.2,444.6v-12.6M248.5,444.2v-12.4M249.1,443.5v-9.9M249.8,442.6v-8.0M250.1,442.3v-12.2M250.7,441.5v-9.5" stroke="#c3c5b8" stroke-width="0.6" opacity="0.85"/>
</g>
<polygon points="1183.6,246.2 1187.8,248.3 1191.9,250.6 1195.8,253.2 1199.5,256.0 1203.0,258.9 1206.3,262.1 1209.3,265.5 1212.1,269.1 1214.6,272.8 1216.8,276.6 1218.7,280.5 1220.4,284.6 1221.7,288.8 1222.8,293.0 1223.5,297.2 1223.9,301.5 1224.0,305.9 1223.8,310.2 1223.2,314.5 1222.4,318.7 1221.2,322.9 1219.8,327.0 1218.0,331.1 1215.9,335.0 1213.6,338.7 1211.0,342.4 1208.1,345.9 1205.0,349.2 1201.6,352.3 1198.1,355.2 1194.3,357.9 1190.3,360.4 1186.2,362.6 1181.9,364.6 1177.4,366.3 1172.9,367.8 1168.2,369.0 1163.5,369.9 1158.7,370.5 1153.9,370.9 1152.1,375.4 1143.0,359.3 1162.5,347.4 1160.1,354.2 1163.6,353.6 1167.0,352.8 1170.3,351.8 1173.6,350.7 1176.8,349.3 1179.9,347.8 1182.9,346.2 1185.8,344.3 1188.5,342.4 1191.1,340.3 1193.5,338.0 1195.8,335.7 1197.9,333.2 1199.8,330.6 1201.5,327.9 1203.1,325.2 1204.4,322.3 1205.5,319.4 1206.5,316.5 1207.2,313.5 1207.7,310.4 1207.9,307.4 1208.0,304.3 1207.8,301.3 1207.5,298.2 1206.9,295.2 1206.1,292.2 1205.1,289.3 1203.8,286.4 1202.4,283.6 1200.8,280.8 1199.0,278.2 1197.0,275.7 1194.8,273.2 1192.5,270.9 1190.0,268.8 1187.3,266.7 1184.5,264.8 1181.6,263.1 1178.6,261.5" fill="#b4c7e7"/>
<line x1="808.8" y1="320.3" x2="898.7" y2="382.2" stroke="#000" stroke-width="2.7" stroke-dasharray="11.5,6.2" fill="none"/>
<line x1="808.8" y1="478" x2="894.3" y2="427.9" stroke="#000" stroke-width="2.7" stroke-dasharray="11.5,6.2" fill="none"/>
<ellipse cx="901.3" cy="403.6" rx="13.6" ry="20" stroke="#000" stroke-width="2.7" stroke-dasharray="9,5.5" fill="none" transform="rotate(-8 901.3 403.6)"/>
<line x1="267.1" y1="303.1" x2="357.6" y2="366.4" stroke="#000" stroke-width="2.7" stroke-dasharray="11.5,6.2" fill="none"/>
<line x1="267.1" y1="460.9" x2="352.9" y2="410" stroke="#000" stroke-width="2.7" stroke-dasharray="11.5,6.2" fill="none"/>
<ellipse cx="358.6" cy="387.3" rx="13.6" ry="19.8" stroke="#000" stroke-width="2.7" stroke-dasharray="9,5.5" fill="none" transform="rotate(-8 358.6 387.3)"/>
<text transform="translate(125.2,249.0) scale(1,1.07)" x="0" y="0" textLength="66.7" lengthAdjust="spacing" font-family="Liberation Serif" font-weight="bold" font-size="21.6" fill="#000">Si(100)</text><text transform="translate(339.0,248.7) scale(1,1.07)" x="0" y="0" textLength="254.5" lengthAdjust="spacing" font-family="Liberation Serif" font-weight="bold" font-size="21.6" fill="#000">Preparation of oxide layer</text><text transform="translate(658.7,247.8) scale(1,1.07)" x="0" y="0" textLength="207.1" lengthAdjust="spacing" font-family="Liberation Serif" font-weight="bold" font-size="21.6" fill="#000">Preparation of masks</text><text transform="translate(1020.8,248.2) scale(1,1.07)" x="0" y="0" textLength="72.4" lengthAdjust="spacing" font-family="Liberation Serif" font-weight="bold" font-size="21.6" fill="#000">Si-MNs</text><text transform="translate(295.1,521.7) scale(1,1.07)" x="0" y="0" textLength="87.5" lengthAdjust="spacing" font-family="Liberation Serif" font-weight="bold" font-size="21.6" fill="#000">BSi-MNs</text><text transform="translate(803.9,521.7) scale(1,1.07)" x="0" y="0" textLength="200.2" lengthAdjust="spacing" font-family="Liberation Serif" font-weight="bold" font-size="21.6" fill="#000">Deposition of AgNPs</text>
</svg></body></html>
